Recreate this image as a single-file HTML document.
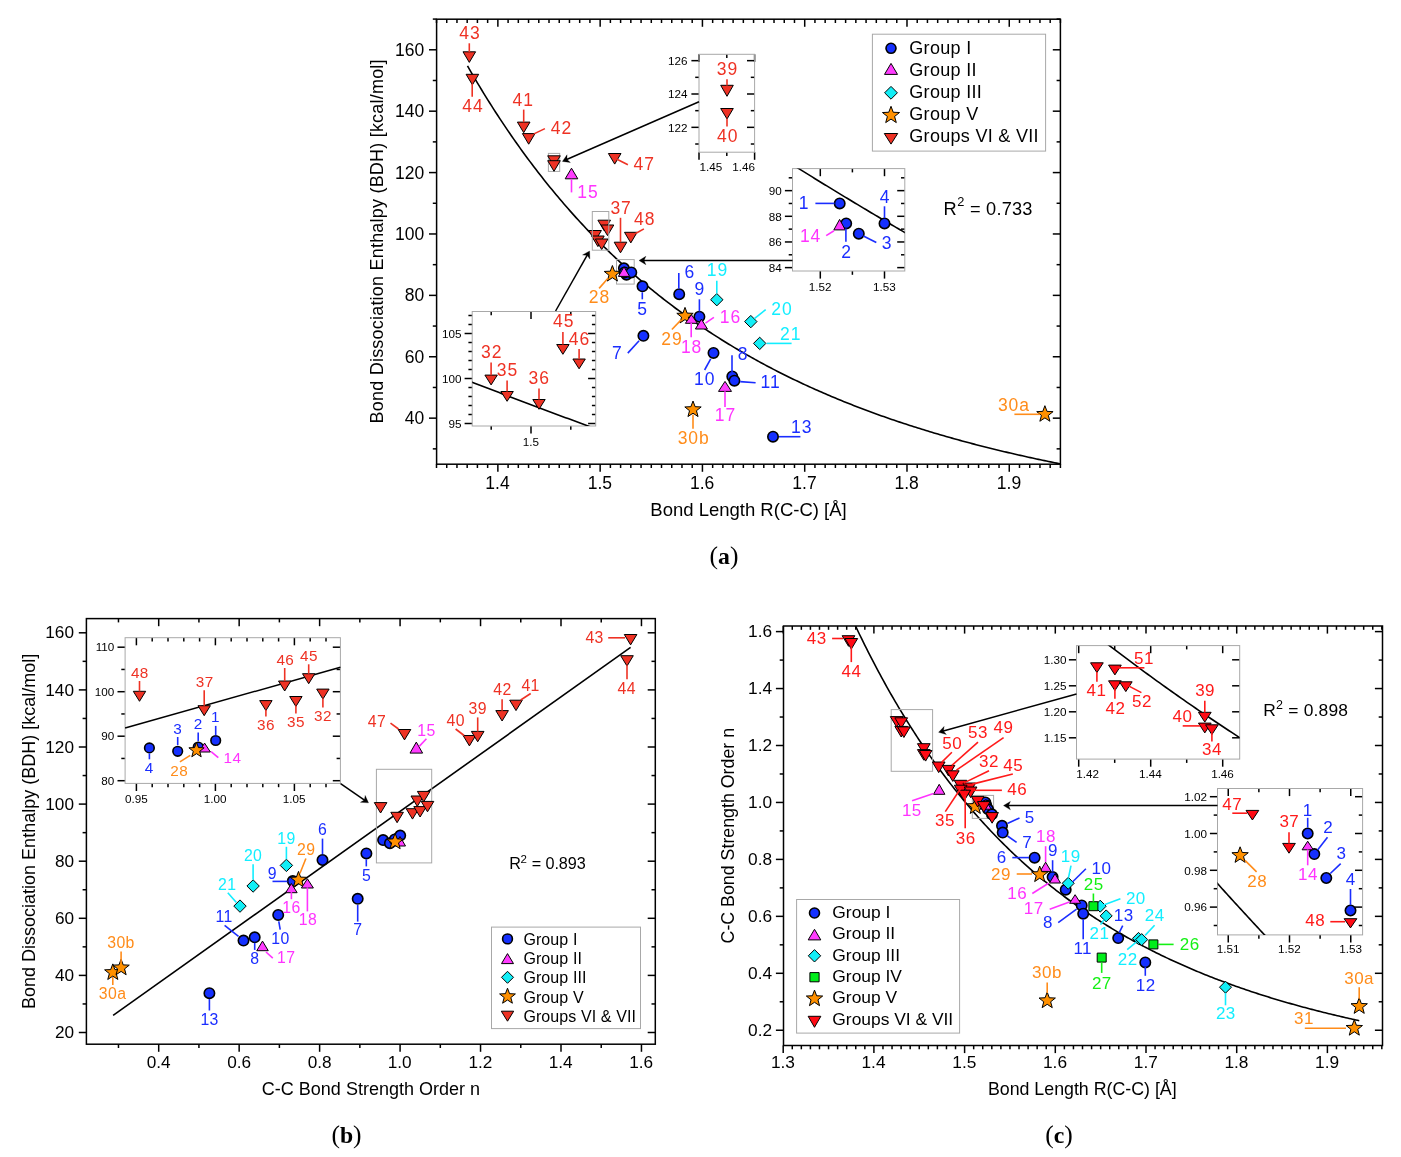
<!DOCTYPE html>
<html><head><meta charset="utf-8"><title>Figure</title>
<style>html,body{margin:0;padding:0;background:#fff;}svg{display:block;will-change:transform;}</style></head>
<body><svg width="1401" height="1157" viewBox="0 0 1401 1157" font-family="Liberation Sans, sans-serif">
<rect x="0" y="0" width="1401" height="1157" fill="#fff"/>
<line x1="497.87" y1="464.2" x2="497.87" y2="471.8" stroke="#000" stroke-width="1.5"/>
<line x1="497.87" y1="19.2" x2="497.87" y2="26.8" stroke="#000" stroke-width="1.5"/>
<line x1="600.15" y1="464.2" x2="600.15" y2="471.8" stroke="#000" stroke-width="1.5"/>
<line x1="600.15" y1="19.2" x2="600.15" y2="26.8" stroke="#000" stroke-width="1.5"/>
<line x1="702.43" y1="464.2" x2="702.43" y2="471.8" stroke="#000" stroke-width="1.5"/>
<line x1="702.43" y1="19.2" x2="702.43" y2="26.8" stroke="#000" stroke-width="1.5"/>
<line x1="804.71" y1="464.2" x2="804.71" y2="471.8" stroke="#000" stroke-width="1.5"/>
<line x1="804.71" y1="19.2" x2="804.71" y2="26.8" stroke="#000" stroke-width="1.5"/>
<line x1="906.99" y1="464.2" x2="906.99" y2="471.8" stroke="#000" stroke-width="1.5"/>
<line x1="906.99" y1="19.2" x2="906.99" y2="26.8" stroke="#000" stroke-width="1.5"/>
<line x1="1009.27" y1="464.2" x2="1009.27" y2="471.8" stroke="#000" stroke-width="1.5"/>
<line x1="1009.27" y1="19.2" x2="1009.27" y2="26.8" stroke="#000" stroke-width="1.5"/>
<line x1="436.5" y1="464.2" x2="436.5" y2="468" stroke="#000" stroke-width="1.5"/>
<line x1="436.5" y1="19.2" x2="436.5" y2="23" stroke="#000" stroke-width="1.5"/>
<line x1="446.73" y1="464.2" x2="446.73" y2="468" stroke="#000" stroke-width="1.5"/>
<line x1="446.73" y1="19.2" x2="446.73" y2="23" stroke="#000" stroke-width="1.5"/>
<line x1="456.96" y1="464.2" x2="456.96" y2="468" stroke="#000" stroke-width="1.5"/>
<line x1="456.96" y1="19.2" x2="456.96" y2="23" stroke="#000" stroke-width="1.5"/>
<line x1="467.18" y1="464.2" x2="467.18" y2="468" stroke="#000" stroke-width="1.5"/>
<line x1="467.18" y1="19.2" x2="467.18" y2="23" stroke="#000" stroke-width="1.5"/>
<line x1="477.41" y1="464.2" x2="477.41" y2="468" stroke="#000" stroke-width="1.5"/>
<line x1="477.41" y1="19.2" x2="477.41" y2="23" stroke="#000" stroke-width="1.5"/>
<line x1="487.64" y1="464.2" x2="487.64" y2="468" stroke="#000" stroke-width="1.5"/>
<line x1="487.64" y1="19.2" x2="487.64" y2="23" stroke="#000" stroke-width="1.5"/>
<line x1="508.1" y1="464.2" x2="508.1" y2="468" stroke="#000" stroke-width="1.5"/>
<line x1="508.1" y1="19.2" x2="508.1" y2="23" stroke="#000" stroke-width="1.5"/>
<line x1="518.32" y1="464.2" x2="518.32" y2="468" stroke="#000" stroke-width="1.5"/>
<line x1="518.32" y1="19.2" x2="518.32" y2="23" stroke="#000" stroke-width="1.5"/>
<line x1="528.55" y1="464.2" x2="528.55" y2="468" stroke="#000" stroke-width="1.5"/>
<line x1="528.55" y1="19.2" x2="528.55" y2="23" stroke="#000" stroke-width="1.5"/>
<line x1="538.78" y1="464.2" x2="538.78" y2="468" stroke="#000" stroke-width="1.5"/>
<line x1="538.78" y1="19.2" x2="538.78" y2="23" stroke="#000" stroke-width="1.5"/>
<line x1="549.01" y1="464.2" x2="549.01" y2="468" stroke="#000" stroke-width="1.5"/>
<line x1="549.01" y1="19.2" x2="549.01" y2="23" stroke="#000" stroke-width="1.5"/>
<line x1="559.24" y1="464.2" x2="559.24" y2="468" stroke="#000" stroke-width="1.5"/>
<line x1="559.24" y1="19.2" x2="559.24" y2="23" stroke="#000" stroke-width="1.5"/>
<line x1="569.46" y1="464.2" x2="569.46" y2="468" stroke="#000" stroke-width="1.5"/>
<line x1="569.46" y1="19.2" x2="569.46" y2="23" stroke="#000" stroke-width="1.5"/>
<line x1="579.69" y1="464.2" x2="579.69" y2="468" stroke="#000" stroke-width="1.5"/>
<line x1="579.69" y1="19.2" x2="579.69" y2="23" stroke="#000" stroke-width="1.5"/>
<line x1="589.92" y1="464.2" x2="589.92" y2="468" stroke="#000" stroke-width="1.5"/>
<line x1="589.92" y1="19.2" x2="589.92" y2="23" stroke="#000" stroke-width="1.5"/>
<line x1="610.38" y1="464.2" x2="610.38" y2="468" stroke="#000" stroke-width="1.5"/>
<line x1="610.38" y1="19.2" x2="610.38" y2="23" stroke="#000" stroke-width="1.5"/>
<line x1="620.6" y1="464.2" x2="620.6" y2="468" stroke="#000" stroke-width="1.5"/>
<line x1="620.6" y1="19.2" x2="620.6" y2="23" stroke="#000" stroke-width="1.5"/>
<line x1="630.83" y1="464.2" x2="630.83" y2="468" stroke="#000" stroke-width="1.5"/>
<line x1="630.83" y1="19.2" x2="630.83" y2="23" stroke="#000" stroke-width="1.5"/>
<line x1="641.06" y1="464.2" x2="641.06" y2="468" stroke="#000" stroke-width="1.5"/>
<line x1="641.06" y1="19.2" x2="641.06" y2="23" stroke="#000" stroke-width="1.5"/>
<line x1="651.29" y1="464.2" x2="651.29" y2="468" stroke="#000" stroke-width="1.5"/>
<line x1="651.29" y1="19.2" x2="651.29" y2="23" stroke="#000" stroke-width="1.5"/>
<line x1="661.52" y1="464.2" x2="661.52" y2="468" stroke="#000" stroke-width="1.5"/>
<line x1="661.52" y1="19.2" x2="661.52" y2="23" stroke="#000" stroke-width="1.5"/>
<line x1="671.74" y1="464.2" x2="671.74" y2="468" stroke="#000" stroke-width="1.5"/>
<line x1="671.74" y1="19.2" x2="671.74" y2="23" stroke="#000" stroke-width="1.5"/>
<line x1="681.97" y1="464.2" x2="681.97" y2="468" stroke="#000" stroke-width="1.5"/>
<line x1="681.97" y1="19.2" x2="681.97" y2="23" stroke="#000" stroke-width="1.5"/>
<line x1="692.2" y1="464.2" x2="692.2" y2="468" stroke="#000" stroke-width="1.5"/>
<line x1="692.2" y1="19.2" x2="692.2" y2="23" stroke="#000" stroke-width="1.5"/>
<line x1="712.66" y1="464.2" x2="712.66" y2="468" stroke="#000" stroke-width="1.5"/>
<line x1="712.66" y1="19.2" x2="712.66" y2="23" stroke="#000" stroke-width="1.5"/>
<line x1="722.88" y1="464.2" x2="722.88" y2="468" stroke="#000" stroke-width="1.5"/>
<line x1="722.88" y1="19.2" x2="722.88" y2="23" stroke="#000" stroke-width="1.5"/>
<line x1="733.11" y1="464.2" x2="733.11" y2="468" stroke="#000" stroke-width="1.5"/>
<line x1="733.11" y1="19.2" x2="733.11" y2="23" stroke="#000" stroke-width="1.5"/>
<line x1="743.34" y1="464.2" x2="743.34" y2="468" stroke="#000" stroke-width="1.5"/>
<line x1="743.34" y1="19.2" x2="743.34" y2="23" stroke="#000" stroke-width="1.5"/>
<line x1="753.57" y1="464.2" x2="753.57" y2="468" stroke="#000" stroke-width="1.5"/>
<line x1="753.57" y1="19.2" x2="753.57" y2="23" stroke="#000" stroke-width="1.5"/>
<line x1="763.8" y1="464.2" x2="763.8" y2="468" stroke="#000" stroke-width="1.5"/>
<line x1="763.8" y1="19.2" x2="763.8" y2="23" stroke="#000" stroke-width="1.5"/>
<line x1="774.02" y1="464.2" x2="774.02" y2="468" stroke="#000" stroke-width="1.5"/>
<line x1="774.02" y1="19.2" x2="774.02" y2="23" stroke="#000" stroke-width="1.5"/>
<line x1="784.25" y1="464.2" x2="784.25" y2="468" stroke="#000" stroke-width="1.5"/>
<line x1="784.25" y1="19.2" x2="784.25" y2="23" stroke="#000" stroke-width="1.5"/>
<line x1="794.48" y1="464.2" x2="794.48" y2="468" stroke="#000" stroke-width="1.5"/>
<line x1="794.48" y1="19.2" x2="794.48" y2="23" stroke="#000" stroke-width="1.5"/>
<line x1="814.94" y1="464.2" x2="814.94" y2="468" stroke="#000" stroke-width="1.5"/>
<line x1="814.94" y1="19.2" x2="814.94" y2="23" stroke="#000" stroke-width="1.5"/>
<line x1="825.16" y1="464.2" x2="825.16" y2="468" stroke="#000" stroke-width="1.5"/>
<line x1="825.16" y1="19.2" x2="825.16" y2="23" stroke="#000" stroke-width="1.5"/>
<line x1="835.39" y1="464.2" x2="835.39" y2="468" stroke="#000" stroke-width="1.5"/>
<line x1="835.39" y1="19.2" x2="835.39" y2="23" stroke="#000" stroke-width="1.5"/>
<line x1="845.62" y1="464.2" x2="845.62" y2="468" stroke="#000" stroke-width="1.5"/>
<line x1="845.62" y1="19.2" x2="845.62" y2="23" stroke="#000" stroke-width="1.5"/>
<line x1="855.85" y1="464.2" x2="855.85" y2="468" stroke="#000" stroke-width="1.5"/>
<line x1="855.85" y1="19.2" x2="855.85" y2="23" stroke="#000" stroke-width="1.5"/>
<line x1="866.08" y1="464.2" x2="866.08" y2="468" stroke="#000" stroke-width="1.5"/>
<line x1="866.08" y1="19.2" x2="866.08" y2="23" stroke="#000" stroke-width="1.5"/>
<line x1="876.3" y1="464.2" x2="876.3" y2="468" stroke="#000" stroke-width="1.5"/>
<line x1="876.3" y1="19.2" x2="876.3" y2="23" stroke="#000" stroke-width="1.5"/>
<line x1="886.53" y1="464.2" x2="886.53" y2="468" stroke="#000" stroke-width="1.5"/>
<line x1="886.53" y1="19.2" x2="886.53" y2="23" stroke="#000" stroke-width="1.5"/>
<line x1="896.76" y1="464.2" x2="896.76" y2="468" stroke="#000" stroke-width="1.5"/>
<line x1="896.76" y1="19.2" x2="896.76" y2="23" stroke="#000" stroke-width="1.5"/>
<line x1="917.22" y1="464.2" x2="917.22" y2="468" stroke="#000" stroke-width="1.5"/>
<line x1="917.22" y1="19.2" x2="917.22" y2="23" stroke="#000" stroke-width="1.5"/>
<line x1="927.44" y1="464.2" x2="927.44" y2="468" stroke="#000" stroke-width="1.5"/>
<line x1="927.44" y1="19.2" x2="927.44" y2="23" stroke="#000" stroke-width="1.5"/>
<line x1="937.67" y1="464.2" x2="937.67" y2="468" stroke="#000" stroke-width="1.5"/>
<line x1="937.67" y1="19.2" x2="937.67" y2="23" stroke="#000" stroke-width="1.5"/>
<line x1="947.9" y1="464.2" x2="947.9" y2="468" stroke="#000" stroke-width="1.5"/>
<line x1="947.9" y1="19.2" x2="947.9" y2="23" stroke="#000" stroke-width="1.5"/>
<line x1="958.13" y1="464.2" x2="958.13" y2="468" stroke="#000" stroke-width="1.5"/>
<line x1="958.13" y1="19.2" x2="958.13" y2="23" stroke="#000" stroke-width="1.5"/>
<line x1="968.36" y1="464.2" x2="968.36" y2="468" stroke="#000" stroke-width="1.5"/>
<line x1="968.36" y1="19.2" x2="968.36" y2="23" stroke="#000" stroke-width="1.5"/>
<line x1="978.58" y1="464.2" x2="978.58" y2="468" stroke="#000" stroke-width="1.5"/>
<line x1="978.58" y1="19.2" x2="978.58" y2="23" stroke="#000" stroke-width="1.5"/>
<line x1="988.81" y1="464.2" x2="988.81" y2="468" stroke="#000" stroke-width="1.5"/>
<line x1="988.81" y1="19.2" x2="988.81" y2="23" stroke="#000" stroke-width="1.5"/>
<line x1="999.04" y1="464.2" x2="999.04" y2="468" stroke="#000" stroke-width="1.5"/>
<line x1="999.04" y1="19.2" x2="999.04" y2="23" stroke="#000" stroke-width="1.5"/>
<line x1="1019.5" y1="464.2" x2="1019.5" y2="468" stroke="#000" stroke-width="1.5"/>
<line x1="1019.5" y1="19.2" x2="1019.5" y2="23" stroke="#000" stroke-width="1.5"/>
<line x1="1029.72" y1="464.2" x2="1029.72" y2="468" stroke="#000" stroke-width="1.5"/>
<line x1="1029.72" y1="19.2" x2="1029.72" y2="23" stroke="#000" stroke-width="1.5"/>
<line x1="1039.95" y1="464.2" x2="1039.95" y2="468" stroke="#000" stroke-width="1.5"/>
<line x1="1039.95" y1="19.2" x2="1039.95" y2="23" stroke="#000" stroke-width="1.5"/>
<line x1="1050.18" y1="464.2" x2="1050.18" y2="468" stroke="#000" stroke-width="1.5"/>
<line x1="1050.18" y1="19.2" x2="1050.18" y2="23" stroke="#000" stroke-width="1.5"/>
<line x1="1060.41" y1="464.2" x2="1060.41" y2="468" stroke="#000" stroke-width="1.5"/>
<line x1="1060.41" y1="19.2" x2="1060.41" y2="23" stroke="#000" stroke-width="1.5"/>
<line x1="429" y1="418.15" x2="436.6" y2="418.15" stroke="#000" stroke-width="1.5"/>
<line x1="1052.8" y1="418.15" x2="1060.4" y2="418.15" stroke="#000" stroke-width="1.5"/>
<line x1="429" y1="356.76" x2="436.6" y2="356.76" stroke="#000" stroke-width="1.5"/>
<line x1="1052.8" y1="356.76" x2="1060.4" y2="356.76" stroke="#000" stroke-width="1.5"/>
<line x1="429" y1="295.37" x2="436.6" y2="295.37" stroke="#000" stroke-width="1.5"/>
<line x1="1052.8" y1="295.37" x2="1060.4" y2="295.37" stroke="#000" stroke-width="1.5"/>
<line x1="429" y1="233.97" x2="436.6" y2="233.97" stroke="#000" stroke-width="1.5"/>
<line x1="1052.8" y1="233.97" x2="1060.4" y2="233.97" stroke="#000" stroke-width="1.5"/>
<line x1="429" y1="172.58" x2="436.6" y2="172.58" stroke="#000" stroke-width="1.5"/>
<line x1="1052.8" y1="172.58" x2="1060.4" y2="172.58" stroke="#000" stroke-width="1.5"/>
<line x1="429" y1="111.18" x2="436.6" y2="111.18" stroke="#000" stroke-width="1.5"/>
<line x1="1052.8" y1="111.18" x2="1060.4" y2="111.18" stroke="#000" stroke-width="1.5"/>
<line x1="429" y1="49.79" x2="436.6" y2="49.79" stroke="#000" stroke-width="1.5"/>
<line x1="1052.8" y1="49.79" x2="1060.4" y2="49.79" stroke="#000" stroke-width="1.5"/>
<line x1="432.8" y1="448.85" x2="436.6" y2="448.85" stroke="#000" stroke-width="1.5"/>
<line x1="1056.6" y1="448.85" x2="1060.4" y2="448.85" stroke="#000" stroke-width="1.5"/>
<line x1="432.8" y1="387.46" x2="436.6" y2="387.46" stroke="#000" stroke-width="1.5"/>
<line x1="1056.6" y1="387.46" x2="1060.4" y2="387.46" stroke="#000" stroke-width="1.5"/>
<line x1="432.8" y1="326.06" x2="436.6" y2="326.06" stroke="#000" stroke-width="1.5"/>
<line x1="1056.6" y1="326.06" x2="1060.4" y2="326.06" stroke="#000" stroke-width="1.5"/>
<line x1="432.8" y1="264.67" x2="436.6" y2="264.67" stroke="#000" stroke-width="1.5"/>
<line x1="1056.6" y1="264.67" x2="1060.4" y2="264.67" stroke="#000" stroke-width="1.5"/>
<line x1="432.8" y1="203.28" x2="436.6" y2="203.28" stroke="#000" stroke-width="1.5"/>
<line x1="1056.6" y1="203.28" x2="1060.4" y2="203.28" stroke="#000" stroke-width="1.5"/>
<line x1="432.8" y1="141.88" x2="436.6" y2="141.88" stroke="#000" stroke-width="1.5"/>
<line x1="1056.6" y1="141.88" x2="1060.4" y2="141.88" stroke="#000" stroke-width="1.5"/>
<line x1="432.8" y1="80.49" x2="436.6" y2="80.49" stroke="#000" stroke-width="1.5"/>
<line x1="1056.6" y1="80.49" x2="1060.4" y2="80.49" stroke="#000" stroke-width="1.5"/>
<line x1="432.8" y1="19.09" x2="436.6" y2="19.09" stroke="#000" stroke-width="1.5"/>
<line x1="1056.6" y1="19.09" x2="1060.4" y2="19.09" stroke="#000" stroke-width="1.5"/>
<rect x="436.6" y="19.2" width="623.8" height="445" fill="none" stroke="#000" stroke-width="1.5"/>
<text x="424.2" y="424.25" font-family="Liberation Sans" font-size="17.5" fill="#000" text-anchor="end">40</text>
<text x="424.2" y="362.86" font-family="Liberation Sans" font-size="17.5" fill="#000" text-anchor="end">60</text>
<text x="424.2" y="301.47" font-family="Liberation Sans" font-size="17.5" fill="#000" text-anchor="end">80</text>
<text x="424.2" y="240.07" font-family="Liberation Sans" font-size="17.5" fill="#000" text-anchor="end">100</text>
<text x="424.2" y="178.68" font-family="Liberation Sans" font-size="17.5" fill="#000" text-anchor="end">120</text>
<text x="424.2" y="117.28" font-family="Liberation Sans" font-size="17.5" fill="#000" text-anchor="end">140</text>
<text x="424.2" y="55.89" font-family="Liberation Sans" font-size="17.5" fill="#000" text-anchor="end">160</text>
<text x="497.48" y="488.6" font-family="Liberation Sans" font-size="17.5" fill="#000" text-anchor="middle">1.4</text>
<text x="599.84" y="488.6" font-family="Liberation Sans" font-size="17.5" fill="#000" text-anchor="middle">1.5</text>
<text x="702.12" y="488.6" font-family="Liberation Sans" font-size="17.5" fill="#000" text-anchor="middle">1.6</text>
<text x="804.49" y="488.6" font-family="Liberation Sans" font-size="17.5" fill="#000" text-anchor="middle">1.7</text>
<text x="906.68" y="488.6" font-family="Liberation Sans" font-size="17.5" fill="#000" text-anchor="middle">1.8</text>
<text x="1009.01" y="488.6" font-family="Liberation Sans" font-size="17.5" fill="#000" text-anchor="middle">1.9</text>
<text transform="translate(383.3,241.3) rotate(-90)" x="0" y="0" font-family="Liberation Sans" font-size="18" letter-spacing="0.21" text-anchor="middle">Bond Dissociation Enthalpy (BDH) [kcal/mol]</text>
<text x="748.5" y="516.2" font-family="Liberation Sans" font-size="18.5" fill="#000" text-anchor="middle">Bond Length R(C-C) [Å]</text>
<text x="724" y="564.4" font-family="Liberation Serif" font-size="25.5" text-anchor="middle">(<tspan font-weight="bold" font-size="23.71">a</tspan>)</text>
<clipPath id="ca"><rect x="436.6" y="19.2" width="623.8" height="445"/></clipPath>
<path d="M467.49,65.93 L469.5,69.42 L471.51,72.89 L473.52,76.33 L475.53,79.73 L477.54,83.11 L479.55,86.45 L481.56,89.77 L483.57,93.06 L485.59,96.32 L487.6,99.55 L489.61,102.76 L491.62,105.93 L493.63,109.08 L495.64,112.2 L497.65,115.3 L499.66,118.36 L501.67,121.41 L503.68,124.42 L505.69,127.41 L507.7,130.37 L509.71,133.31 L511.72,136.23 L513.73,139.12 L515.74,141.98 L517.75,144.82 L519.76,147.64 L521.77,150.43 L523.78,153.2 L525.79,155.94 L527.81,158.66 L529.82,161.36 L531.83,164.04 L533.84,166.69 L535.85,169.32 L537.86,171.93 L539.87,174.52 L541.88,177.08 L543.89,179.63 L545.9,182.15 L547.91,184.65 L549.92,187.13 L551.93,189.59 L553.94,192.03 L555.95,194.45 L557.96,196.85 L559.97,199.23 L561.98,201.6 L563.99,203.94 L566,206.26 L568.02,208.56 L570.03,210.85 L572.04,213.11 L574.05,215.36 L576.06,217.59 L578.07,219.8 L580.08,221.99 L582.09,224.16 L584.1,226.32 L586.11,228.46 L588.12,230.58 L590.13,232.68 L592.14,234.77 L594.15,236.84 L596.16,238.9 L598.17,240.93 L600.18,242.95 L602.19,244.96 L604.2,246.95 L606.21,248.92 L608.22,250.88 L610.24,252.82 L612.25,254.74 L614.26,256.66 L616.27,258.55 L618.28,260.43 L620.29,262.3 L622.3,264.15 L624.31,265.98 L626.32,267.8 L628.33,269.61 L630.34,271.4 L632.35,273.18 L634.36,274.95 L636.37,276.7 L638.38,278.43 L640.39,280.16 L642.4,281.87 L644.41,283.56 L646.42,285.25 L648.43,286.92 L650.44,288.57 L652.46,290.22 L654.47,291.85 L656.48,293.47 L658.49,295.08 L660.5,296.67 L662.51,298.25 L664.52,299.82 L666.53,301.38 L668.54,302.92 L670.55,304.46 L672.56,305.98 L674.57,307.49 L676.58,308.99 L678.59,310.47 L680.6,311.95 L682.61,313.41 L684.62,314.86 L686.63,316.31 L688.64,317.74 L690.65,319.16 L692.67,320.57 L694.68,321.97 L696.69,323.35 L698.7,324.73 L700.71,326.1 L702.72,327.46 L704.73,328.8 L706.74,330.14 L708.75,331.47 L710.76,332.78 L712.77,334.09 L714.78,335.39 L716.79,336.67 L718.8,337.95 L720.81,339.22 L722.82,340.48 L724.83,341.73 L726.84,342.97 L728.85,344.2 L730.86,345.42 L732.87,346.63 L734.89,347.83 L736.9,349.03 L738.91,350.21 L740.92,351.39 L742.93,352.56 L744.94,353.72 L746.95,354.87 L748.96,356.01 L750.97,357.15 L752.98,358.28 L754.99,359.39 L757,360.5 L759.01,361.61 L761.02,362.7 L763.03,363.79 L765.04,364.86 L767.05,365.93 L769.06,367 L771.07,368.05 L773.08,369.1 L775.09,370.14 L777.11,371.17 L779.12,372.19 L781.13,373.21 L783.14,374.22 L785.15,375.22 L787.16,376.22 L789.17,377.21 L791.18,378.19 L793.19,379.16 L795.2,380.13 L797.21,381.09 L799.22,382.04 L801.23,382.99 L803.24,383.93 L805.25,384.86 L807.26,385.79 L809.27,386.71 L811.28,387.62 L813.29,388.53 L815.3,389.43 L817.32,390.33 L819.33,391.21 L821.34,392.1 L823.35,392.97 L825.36,393.84 L827.37,394.7 L829.38,395.56 L831.39,396.41 L833.4,397.26 L835.41,398.1 L837.42,398.93 L839.43,399.76 L841.44,400.58 L843.45,401.4 L845.46,402.21 L847.47,403.01 L849.48,403.81 L851.49,404.61 L853.5,405.4 L855.51,406.18 L857.52,406.96 L859.54,407.73 L861.55,408.5 L863.56,409.26 L865.57,410.02 L867.58,410.77 L869.59,411.51 L871.6,412.25 L873.61,412.99 L875.62,413.72 L877.63,414.45 L879.64,415.17 L881.65,415.88 L883.66,416.6 L885.67,417.3 L887.68,418 L889.69,418.7 L891.7,419.39 L893.71,420.08 L895.72,420.76 L897.73,421.44 L899.74,422.12 L901.76,422.79 L903.77,423.45 L905.78,424.11 L907.79,424.77 L909.8,425.42 L911.81,426.07 L913.82,426.71 L915.83,427.35 L917.84,427.98 L919.85,428.61 L921.86,429.24 L923.87,429.86 L925.88,430.48 L927.89,431.09 L929.9,431.7 L931.91,432.3 L933.92,432.91 L935.93,433.5 L937.94,434.1 L939.95,434.69 L941.97,435.27 L943.98,435.85 L945.99,436.43 L948,437.01 L950.01,437.58 L952.02,438.14 L954.03,438.71 L956.04,439.27 L958.05,439.82 L960.06,440.37 L962.07,440.92 L964.08,441.47 L966.09,442.01 L968.1,442.55 L970.11,443.08 L972.12,443.61 L974.13,444.14 L976.14,444.66 L978.15,445.18 L980.16,445.7 L982.17,446.21 L984.19,446.73 L986.2,447.23 L988.21,447.74 L990.22,448.24 L992.23,448.74 L994.24,449.23 L996.25,449.72 L998.26,450.21 L1000.27,450.69 L1002.28,451.18 L1004.29,451.66 L1006.3,452.13 L1008.31,452.6 L1010.32,453.07 L1012.33,453.54 L1014.34,454 L1016.35,454.47 L1018.36,454.92 L1020.37,455.38 L1022.38,455.83 L1024.39,456.28 L1026.41,456.73 L1028.42,457.17 L1030.43,457.61 L1032.44,458.05 L1034.45,458.49 L1036.46,458.92 L1038.47,459.35 L1040.48,459.78 L1042.49,460.2 L1044.5,460.62 L1046.51,461.04 L1048.52,461.46 L1050.53,461.87 L1052.54,462.28 L1054.55,462.69 L1056.56,463.1 L1058.57,463.5 L1060.58,463.91 L1062.59,464.3 L1064.6,464.7 L1066.62,465.1 L1068.63,465.49 L1070.64,465.88" fill="none" stroke="#000" stroke-width="1.6" clip-path="url(#ca)"/>
<rect x="872.4" y="34.2" width="173.2" height="116.9" fill="none" stroke="#a8a8a8" stroke-width="1"/>
<circle cx="891" cy="48.3" r="5" fill="#1530ff" stroke="#000" stroke-width="1.6"/>
<polygon points="891,63.4 897.5,74.4 884.5,74.4" fill="#ff3cff" stroke="#000" stroke-width="1" stroke-linejoin="miter"/>
<polygon points="891,86.4 897.4,92.8 891,99.2 884.6,92.8" fill="#12eef6" stroke="#000" stroke-width="1" stroke-linejoin="miter"/>
<polygon points="891,106.3 893.22,112.24 899.56,112.52 894.59,116.47 896.29,122.58 891,119.08 885.71,122.58 887.41,116.47 882.44,112.52 888.78,112.24" fill="#ff9000" stroke="#000" stroke-width="1" stroke-linejoin="miter"/>
<polygon points="884.3,133.5 897.7,133.5 891,144.1" fill="#ee3224" stroke="#000" stroke-width="1" stroke-linejoin="miter"/>
<text x="909.3" y="53.7" font-family="Liberation Sans" font-size="18" fill="#000" text-anchor="start" letter-spacing="0.3">Group I</text>
<text x="909.3" y="75.8" font-family="Liberation Sans" font-size="18" fill="#000" text-anchor="start" letter-spacing="0.3">Group II</text>
<text x="909.3" y="97.9" font-family="Liberation Sans" font-size="18" fill="#000" text-anchor="start" letter-spacing="0.3">Group III</text>
<text x="909.3" y="120" font-family="Liberation Sans" font-size="18" fill="#000" text-anchor="start" letter-spacing="0.3">Group V</text>
<text x="909.3" y="142.1" font-family="Liberation Sans" font-size="18" fill="#000" text-anchor="start" letter-spacing="0.3">Groups VI &amp; VII</text>
<text x="943.54" y="214.5" font-family="Liberation Sans" font-size="18.2" fill="#000" text-anchor="start">R</text>
<text x="957.16" y="205.9" font-family="Liberation Sans" font-size="12.8" fill="#000" text-anchor="start">2</text>
<text x="970.09" y="214.5" font-family="Liberation Sans" font-size="18.2" fill="#000" text-anchor="start" letter-spacing="0.18">= 0.733</text>
<polygon points="463,51.8 475.6,51.8 469.3,62.4" fill="#ee3224" stroke="#000" stroke-width="1" stroke-linejoin="miter"/>
<polygon points="466.1,74.3 478.7,74.3 472.4,84.9" fill="#ee3224" stroke="#000" stroke-width="1" stroke-linejoin="miter"/>
<polygon points="517.4,122.1 530,122.1 523.7,132.7" fill="#ee3224" stroke="#000" stroke-width="1" stroke-linejoin="miter"/>
<polygon points="522.4,133.6 535,133.6 528.7,144.2" fill="#ee3224" stroke="#000" stroke-width="1" stroke-linejoin="miter"/>
<polygon points="608.4,153.5 621,153.5 614.7,164.1" fill="#ee3224" stroke="#000" stroke-width="1" stroke-linejoin="miter"/>
<polygon points="597.9,220.2 610.5,220.2 604.2,230.8" fill="#ee3224" stroke="#000" stroke-width="1" stroke-linejoin="miter"/>
<polygon points="601.2,225 613.8,225 607.5,235.6" fill="#ee3224" stroke="#000" stroke-width="1" stroke-linejoin="miter"/>
<polygon points="588.8,230.5 601.4,230.5 595.1,241.1" fill="#ee3224" stroke="#000" stroke-width="1" stroke-linejoin="miter"/>
<polygon points="591.6,236 604.2,236 597.9,246.6" fill="#ee3224" stroke="#000" stroke-width="1" stroke-linejoin="miter"/>
<polygon points="595.4,239 608,239 601.7,249.6" fill="#ee3224" stroke="#000" stroke-width="1" stroke-linejoin="miter"/>
<polygon points="614.2,242.2 626.8,242.2 620.5,252.8" fill="#ee3224" stroke="#000" stroke-width="1" stroke-linejoin="miter"/>
<polygon points="624.5,232.3 637.1,232.3 630.8,242.9" fill="#ee3224" stroke="#000" stroke-width="1" stroke-linejoin="miter"/>
<rect x="548.4" y="153.4" width="11.3" height="18" fill="none" stroke="#a8a8a8" stroke-width="1"/>
<polygon points="547.7,155.8 560.3,155.8 554,166.4" fill="#ee3224" stroke="#000" stroke-width="1" stroke-linejoin="miter"/>
<polygon points="547.7,160.7 560.3,160.7 554,171.3" fill="#ee3224" stroke="#000" stroke-width="1" stroke-linejoin="miter"/>
<rect x="592.3" y="211.5" width="16.5" height="38.7" fill="none" stroke="#a8a8a8" stroke-width="1"/>
<rect x="616.5" y="259.6" width="17.7" height="24.5" fill="none" stroke="#a8a8a8" stroke-width="1"/>
<text x="470" y="39" font-family="Liberation Sans" font-size="17.5" fill="#ee3224" text-anchor="middle" letter-spacing="1">43</text>
<text x="473.01" y="112.3" font-family="Liberation Sans" font-size="17.5" fill="#ee3224" text-anchor="middle" letter-spacing="1">44</text>
<text x="523.24" y="105.7" font-family="Liberation Sans" font-size="17.5" fill="#ee3224" text-anchor="middle" letter-spacing="1">41</text>
<text x="561.58" y="134" font-family="Liberation Sans" font-size="17.5" fill="#ee3224" text-anchor="middle" letter-spacing="1">42</text>
<text x="644.28" y="169.7" font-family="Liberation Sans" font-size="17.5" fill="#ee3224" text-anchor="middle" letter-spacing="1">47</text>
<text x="621.11" y="213.6" font-family="Liberation Sans" font-size="17.5" fill="#ee3224" text-anchor="middle" letter-spacing="1">37</text>
<text x="644.8" y="224.5" font-family="Liberation Sans" font-size="17.5" fill="#ee3224" text-anchor="middle" letter-spacing="1">48</text>
<line x1="469.3" y1="43.3" x2="469.3" y2="52" stroke="#ee3224" stroke-width="1.6"/>
<line x1="472.2" y1="83.5" x2="472.2" y2="96.7" stroke="#ee3224" stroke-width="1.6"/>
<line x1="523.7" y1="109.6" x2="523.7" y2="122.2" stroke="#ee3224" stroke-width="1.6"/>
<line x1="533.9" y1="133.9" x2="544.9" y2="128.6" stroke="#ee3224" stroke-width="1.6"/>
<line x1="617" y1="159.3" x2="627.9" y2="164.7" stroke="#ee3224" stroke-width="1.6"/>
<line x1="620.5" y1="217.8" x2="620.5" y2="242.2" stroke="#ee3224" stroke-width="1.6"/>
<line x1="635.6" y1="233.5" x2="643.9" y2="228.9" stroke="#ee3224" stroke-width="1.6"/>
<polygon points="612.4,265.5 614.52,271.18 620.58,271.44 615.84,275.22 617.45,281.06 612.4,277.71 607.35,281.06 608.96,275.22 604.22,271.44 610.28,271.18" fill="#ff9000" stroke="#000" stroke-width="1" stroke-linejoin="miter"/>
<circle cx="623.9" cy="268.3" r="5.2" fill="#1530ff" stroke="#000" stroke-width="1.6"/>
<circle cx="626.5" cy="274.7" r="5.2" fill="#1530ff" stroke="#000" stroke-width="1.6"/>
<circle cx="624.6" cy="272.5" r="5.2" fill="#1530ff" stroke="#000" stroke-width="1.6"/>
<circle cx="631.3" cy="272.4" r="5.2" fill="#1530ff" stroke="#000" stroke-width="1.6"/>
<polygon points="624,266.8 629.6,276.4 618.4,276.4" fill="#ff3cff" stroke="#000" stroke-width="1" stroke-linejoin="miter"/>
<line x1="608" y1="278.2" x2="599.1" y2="288.4" stroke="#ff8c1a" stroke-width="1.6"/>
<text x="599.43" y="303.4" font-family="Liberation Sans" font-size="17.5" fill="#ff8c1a" text-anchor="middle" letter-spacing="1">28</text>
<circle cx="642.5" cy="286.3" r="5.2" fill="#1530ff" stroke="#000" stroke-width="1.6"/>
<circle cx="679.2" cy="294.2" r="5.2" fill="#1530ff" stroke="#000" stroke-width="1.6"/>
<circle cx="643.4" cy="335.8" r="5.2" fill="#1530ff" stroke="#000" stroke-width="1.6"/>
<circle cx="699.4" cy="316.7" r="5.2" fill="#1530ff" stroke="#000" stroke-width="1.6"/>
<circle cx="713.5" cy="352.9" r="5.2" fill="#1530ff" stroke="#000" stroke-width="1.6"/>
<circle cx="732.3" cy="376.4" r="5.2" fill="#1530ff" stroke="#000" stroke-width="1.6"/>
<circle cx="734.4" cy="380.7" r="5.2" fill="#1530ff" stroke="#000" stroke-width="1.6"/>
<circle cx="773" cy="436.7" r="5.2" fill="#1530ff" stroke="#000" stroke-width="1.6"/>
<polygon points="571.5,168.2 577.8,178.8 565.2,178.8" fill="#ff3cff" stroke="#000" stroke-width="1" stroke-linejoin="miter"/>
<line x1="571.5" y1="178.8" x2="571.5" y2="192.4" stroke="#ff33ff" stroke-width="1.6"/>
<text x="587.91" y="198.2" font-family="Liberation Sans" font-size="17.5" fill="#ff33ff" text-anchor="middle" letter-spacing="1">15</text>
<polygon points="685,307.4 687.12,313.08 693.18,313.34 688.44,317.12 690.05,322.96 685,319.61 679.95,322.96 681.56,317.12 676.82,313.34 682.88,313.08" fill="#ff9000" stroke="#000" stroke-width="1" stroke-linejoin="miter"/>
<polygon points="691.4,314.7 697.4,323.3 685.4,323.3" fill="#ff3cff" stroke="#000" stroke-width="1" stroke-linejoin="miter"/>
<polygon points="701.4,319.2 707.4,329 695.4,329" fill="#ff3cff" stroke="#000" stroke-width="1" stroke-linejoin="miter"/>
<polygon points="725,381.4 731.5,391.4 718.5,391.4" fill="#ff3cff" stroke="#000" stroke-width="1" stroke-linejoin="miter"/>
<polygon points="693,401 695.12,406.68 701.18,406.94 696.44,410.72 698.05,416.56 693,413.21 687.95,416.56 689.56,410.72 684.82,406.94 690.88,406.68" fill="#ff9000" stroke="#000" stroke-width="1" stroke-linejoin="miter"/>
<polygon points="1044.9,405.7 1047.02,411.38 1053.08,411.64 1048.34,415.42 1049.95,421.26 1044.9,417.91 1039.85,421.26 1041.46,415.42 1036.72,411.64 1042.78,411.38" fill="#ff9000" stroke="#000" stroke-width="1" stroke-linejoin="miter"/>
<polygon points="716.8,293.5 723,299.7 716.8,305.9 710.6,299.7" fill="#12eef6" stroke="#000" stroke-width="1" stroke-linejoin="miter"/>
<polygon points="750.8,315.4 757,321.6 750.8,327.8 744.6,321.6" fill="#12eef6" stroke="#000" stroke-width="1" stroke-linejoin="miter"/>
<polygon points="759.7,337.2 765.9,343.4 759.7,349.6 753.5,343.4" fill="#12eef6" stroke="#000" stroke-width="1" stroke-linejoin="miter"/>
<line x1="642.3" y1="292.3" x2="642.3" y2="299.3" stroke="#1a2dff" stroke-width="1.6"/>
<line x1="678.8" y1="273" x2="678.8" y2="288.7" stroke="#1a2dff" stroke-width="1.6"/>
<line x1="639.1" y1="340.8" x2="627.8" y2="353.1" stroke="#1a2dff" stroke-width="1.6"/>
<line x1="699.4" y1="299.3" x2="699.4" y2="311.5" stroke="#1a2dff" stroke-width="1.6"/>
<line x1="710.7" y1="358.8" x2="704.6" y2="370" stroke="#1a2dff" stroke-width="1.6"/>
<line x1="732" y1="355.2" x2="732" y2="372" stroke="#1a2dff" stroke-width="1.6"/>
<line x1="740.2" y1="381.6" x2="755.6" y2="382.8" stroke="#1a2dff" stroke-width="1.6"/>
<line x1="779" y1="436.7" x2="800.4" y2="436.7" stroke="#1a2dff" stroke-width="1.6"/>
<line x1="716.8" y1="280.7" x2="716.8" y2="293.5" stroke="#12eeff" stroke-width="1.6"/>
<line x1="754.4" y1="318.6" x2="765.7" y2="309.6" stroke="#12eeff" stroke-width="1.6"/>
<line x1="766.6" y1="343.4" x2="791.6" y2="343.4" stroke="#12eeff" stroke-width="1.6"/>
<line x1="681.1" y1="319.9" x2="671.9" y2="329.5" stroke="#ff8c1a" stroke-width="1.6"/>
<line x1="693" y1="414.4" x2="693" y2="428.8" stroke="#ff8c1a" stroke-width="1.6"/>
<line x1="1014.4" y1="414.3" x2="1040" y2="414.3" stroke="#ff8c1a" stroke-width="1.6"/>
<line x1="691.2" y1="323" x2="691.2" y2="337.2" stroke="#ff33ff" stroke-width="1.6"/>
<line x1="705.5" y1="323.1" x2="713.9" y2="317.3" stroke="#ff33ff" stroke-width="1.6"/>
<line x1="725" y1="391.3" x2="725" y2="407.1" stroke="#ff33ff" stroke-width="1.6"/>
<text x="642.01" y="315.3" font-family="Liberation Sans" font-size="17.5" fill="#1a2dff" text-anchor="middle">5</text>
<text x="689.42" y="278.4" font-family="Liberation Sans" font-size="17.5" fill="#1a2dff" text-anchor="middle">6</text>
<text x="616.81" y="358.6" font-family="Liberation Sans" font-size="17.5" fill="#1a2dff" text-anchor="middle">7</text>
<text x="699.31" y="295.2" font-family="Liberation Sans" font-size="17.5" fill="#1a2dff" text-anchor="middle">9</text>
<text x="704.67" y="385.2" font-family="Liberation Sans" font-size="17.5" fill="#1a2dff" text-anchor="middle" letter-spacing="1">10</text>
<text x="742.67" y="359.7" font-family="Liberation Sans" font-size="17.5" fill="#1a2dff" text-anchor="middle">8</text>
<text x="770.66" y="388.3" font-family="Liberation Sans" font-size="17.5" fill="#1a2dff" text-anchor="middle" letter-spacing="1">11</text>
<text x="801.71" y="433.2" font-family="Liberation Sans" font-size="17.5" fill="#1a2dff" text-anchor="middle" letter-spacing="1">13</text>
<text x="717.46" y="276" font-family="Liberation Sans" font-size="17.5" fill="#12eeff" text-anchor="middle" letter-spacing="1">19</text>
<text x="781.99" y="314.8" font-family="Liberation Sans" font-size="17.5" fill="#12eeff" text-anchor="middle" letter-spacing="1">20</text>
<text x="790.78" y="339.6" font-family="Liberation Sans" font-size="17.5" fill="#12eeff" text-anchor="middle" letter-spacing="1">21</text>
<text x="671.98" y="344.7" font-family="Liberation Sans" font-size="17.5" fill="#ff8c1a" text-anchor="middle" letter-spacing="1">29</text>
<text x="693.73" y="444" font-family="Liberation Sans" font-size="17.5" fill="#ff8c1a" text-anchor="middle" letter-spacing="1">30b</text>
<text x="1013.98" y="411.2" font-family="Liberation Sans" font-size="17.5" fill="#ff8c1a" text-anchor="middle" letter-spacing="1">30a</text>
<text x="691.61" y="353" font-family="Liberation Sans" font-size="17.5" fill="#ff33ff" text-anchor="middle" letter-spacing="1">18</text>
<text x="730.51" y="322.9" font-family="Liberation Sans" font-size="17.5" fill="#ff33ff" text-anchor="middle" letter-spacing="1">16</text>
<text x="725.6" y="421.2" font-family="Liberation Sans" font-size="17.5" fill="#ff33ff" text-anchor="middle" letter-spacing="1">17</text>
<line x1="699" y1="152.2" x2="699" y2="159.8" stroke="#000" stroke-width="1.5"/>
<line x1="699" y1="54.3" x2="699" y2="61.9" stroke="#000" stroke-width="1.5"/>
<line x1="754.6" y1="152.2" x2="754.6" y2="159.8" stroke="#000" stroke-width="1.5"/>
<line x1="754.6" y1="54.3" x2="754.6" y2="61.9" stroke="#000" stroke-width="1.5"/>
<line x1="726.8" y1="152.2" x2="726.8" y2="156" stroke="#000" stroke-width="1.5"/>
<line x1="726.8" y1="54.3" x2="726.8" y2="58.1" stroke="#000" stroke-width="1.5"/>
<line x1="691.4" y1="127.34" x2="699" y2="127.34" stroke="#000" stroke-width="1.5"/>
<line x1="747" y1="127.34" x2="754.6" y2="127.34" stroke="#000" stroke-width="1.5"/>
<line x1="691.4" y1="94" x2="699" y2="94" stroke="#000" stroke-width="1.5"/>
<line x1="747" y1="94" x2="754.6" y2="94" stroke="#000" stroke-width="1.5"/>
<line x1="691.4" y1="60.66" x2="699" y2="60.66" stroke="#000" stroke-width="1.5"/>
<line x1="747" y1="60.66" x2="754.6" y2="60.66" stroke="#000" stroke-width="1.5"/>
<line x1="695.2" y1="144.01" x2="699" y2="144.01" stroke="#000" stroke-width="1.5"/>
<line x1="750.8" y1="144.01" x2="754.6" y2="144.01" stroke="#000" stroke-width="1.5"/>
<line x1="695.2" y1="110.67" x2="699" y2="110.67" stroke="#000" stroke-width="1.5"/>
<line x1="750.8" y1="110.67" x2="754.6" y2="110.67" stroke="#000" stroke-width="1.5"/>
<line x1="695.2" y1="77.33" x2="699" y2="77.33" stroke="#000" stroke-width="1.5"/>
<line x1="750.8" y1="77.33" x2="754.6" y2="77.33" stroke="#000" stroke-width="1.5"/>
<rect x="699" y="54.3" width="55.6" height="97.9" fill="none" stroke="#a8a8a8" stroke-width="1"/>
<text x="687.6" y="131.74" font-family="Liberation Sans" font-size="11.7" fill="#000" text-anchor="end">122</text>
<text x="687.6" y="98.4" font-family="Liberation Sans" font-size="11.7" fill="#000" text-anchor="end">124</text>
<text x="687.6" y="65.06" font-family="Liberation Sans" font-size="11.7" fill="#000" text-anchor="end">126</text>
<text x="699.5" y="171" font-family="Liberation Sans" font-size="11.7" fill="#000" text-anchor="start">1.45</text>
<text x="755" y="171" font-family="Liberation Sans" font-size="11.7" fill="#000" text-anchor="end">1.46</text>
<polygon points="720.7,85.3 733.3,85.3 727,96.3" fill="#ee3224" stroke="#000" stroke-width="1" stroke-linejoin="miter"/>
<polygon points="720.7,108.5 733.3,108.5 727,119" fill="#ee3224" stroke="#000" stroke-width="1" stroke-linejoin="miter"/>
<line x1="727" y1="79.3" x2="727" y2="85.5" stroke="#ee3224" stroke-width="1.6"/>
<line x1="727" y1="118.5" x2="727" y2="126.4" stroke="#ee3224" stroke-width="1.6"/>
<text x="727.56" y="74.7" font-family="Liberation Sans" font-size="17.5" fill="#ee3224" text-anchor="middle" letter-spacing="1">39</text>
<text x="727.65" y="141.8" font-family="Liberation Sans" font-size="17.5" fill="#ee3224" text-anchor="middle" letter-spacing="1">40</text>
<line x1="699" y1="101.7" x2="566.07" y2="159.8" stroke="#000" stroke-width="1.5"/>
<polygon points="562.4,161.4 570.4,162.49 566.98,159.4 567.04,154.79" fill="#000" stroke="#000" stroke-width="0.3"/>
<rect x="792.5" y="168.6" width="112.3" height="102.4" fill="#fff"/>
<line x1="820.3" y1="271" x2="820.3" y2="278.6" stroke="#000" stroke-width="1.5"/>
<line x1="820.3" y1="168.6" x2="820.3" y2="176.2" stroke="#000" stroke-width="1.5"/>
<line x1="884.5" y1="271" x2="884.5" y2="278.6" stroke="#000" stroke-width="1.5"/>
<line x1="884.5" y1="168.6" x2="884.5" y2="176.2" stroke="#000" stroke-width="1.5"/>
<line x1="852.4" y1="271" x2="852.4" y2="274.8" stroke="#000" stroke-width="1.5"/>
<line x1="852.4" y1="168.6" x2="852.4" y2="172.4" stroke="#000" stroke-width="1.5"/>
<line x1="784.9" y1="267.62" x2="792.5" y2="267.62" stroke="#000" stroke-width="1.5"/>
<line x1="897.2" y1="267.62" x2="904.8" y2="267.62" stroke="#000" stroke-width="1.5"/>
<line x1="784.9" y1="241.96" x2="792.5" y2="241.96" stroke="#000" stroke-width="1.5"/>
<line x1="897.2" y1="241.96" x2="904.8" y2="241.96" stroke="#000" stroke-width="1.5"/>
<line x1="784.9" y1="216.3" x2="792.5" y2="216.3" stroke="#000" stroke-width="1.5"/>
<line x1="897.2" y1="216.3" x2="904.8" y2="216.3" stroke="#000" stroke-width="1.5"/>
<line x1="784.9" y1="190.64" x2="792.5" y2="190.64" stroke="#000" stroke-width="1.5"/>
<line x1="897.2" y1="190.64" x2="904.8" y2="190.64" stroke="#000" stroke-width="1.5"/>
<line x1="788.7" y1="254.79" x2="792.5" y2="254.79" stroke="#000" stroke-width="1.5"/>
<line x1="901" y1="254.79" x2="904.8" y2="254.79" stroke="#000" stroke-width="1.5"/>
<line x1="788.7" y1="229.13" x2="792.5" y2="229.13" stroke="#000" stroke-width="1.5"/>
<line x1="901" y1="229.13" x2="904.8" y2="229.13" stroke="#000" stroke-width="1.5"/>
<line x1="788.7" y1="203.47" x2="792.5" y2="203.47" stroke="#000" stroke-width="1.5"/>
<line x1="901" y1="203.47" x2="904.8" y2="203.47" stroke="#000" stroke-width="1.5"/>
<line x1="788.7" y1="177.81" x2="792.5" y2="177.81" stroke="#000" stroke-width="1.5"/>
<line x1="901" y1="177.81" x2="904.8" y2="177.81" stroke="#000" stroke-width="1.5"/>
<rect x="792.5" y="168.6" width="112.3" height="102.4" fill="none" stroke="#a8a8a8" stroke-width="1"/>
<text x="781.8" y="271.92" font-family="Liberation Sans" font-size="11.7" fill="#000" text-anchor="end">84</text>
<text x="781.8" y="246.26" font-family="Liberation Sans" font-size="11.7" fill="#000" text-anchor="end">86</text>
<text x="781.8" y="220.6" font-family="Liberation Sans" font-size="11.7" fill="#000" text-anchor="end">88</text>
<text x="781.8" y="194.94" font-family="Liberation Sans" font-size="11.7" fill="#000" text-anchor="end">90</text>
<text x="820.16" y="291.2" font-family="Liberation Sans" font-size="11.7" fill="#000" text-anchor="middle">1.52</text>
<text x="884.3" y="291.2" font-family="Liberation Sans" font-size="11.7" fill="#000" text-anchor="middle">1.53</text>
<clipPath id="ci2"><rect x="792.5" y="168.6" width="112.3" height="102.4"/></clipPath>
<path d="M788.2,162.01 L790.23,163.29 L792.27,164.56 L794.3,165.83 L796.33,167.1 L798.36,168.37 L800.4,169.63 L802.43,170.9 L804.46,172.16 L806.5,173.42 L808.53,174.68 L810.56,175.94 L812.6,177.19 L814.63,178.45 L816.66,179.7 L818.69,180.95 L820.73,182.2 L822.76,183.45 L824.79,184.7 L826.83,185.94 L828.86,187.19 L830.89,188.43 L832.93,189.67 L834.96,190.91 L836.99,192.15 L839.02,193.38 L841.06,194.61 L843.09,195.85 L845.12,197.08 L847.16,198.31 L849.19,199.53 L851.22,200.76 L853.26,201.99 L855.29,203.21 L857.32,204.43 L859.35,205.65 L861.39,206.87 L863.42,208.08 L865.45,209.3 L867.49,210.51 L869.52,211.73 L871.55,212.94 L873.59,214.14 L875.62,215.35 L877.65,216.56 L879.68,217.76 L881.72,218.97 L883.75,220.17 L885.78,221.37 L887.82,222.56 L889.85,223.76 L891.88,224.96 L893.92,226.15 L895.95,227.34 L897.98,228.53 L900.02,229.72 L902.05,230.91 L904.08,232.1 L906.11,233.28 L908.15,234.46 L910.18,235.65" fill="none" stroke="#000" stroke-width="1.6" clip-path="url(#ci2)"/>
<circle cx="839.7" cy="203.4" r="5.2" fill="#1530ff" stroke="#000" stroke-width="1.6"/>
<circle cx="846.2" cy="223.4" r="5.2" fill="#1530ff" stroke="#000" stroke-width="1.6"/>
<circle cx="858.8" cy="233.7" r="5.2" fill="#1530ff" stroke="#000" stroke-width="1.6"/>
<circle cx="884.5" cy="223.4" r="5.2" fill="#1530ff" stroke="#000" stroke-width="1.6"/>
<polygon points="839.6,219.4 845.35,229.9 833.85,229.9" fill="#ff3cff" stroke="#000" stroke-width="1" stroke-linejoin="miter"/>
<line x1="815.4" y1="203.4" x2="834.5" y2="203.4" stroke="#1a2dff" stroke-width="1.6"/>
<line x1="845.9" y1="228.5" x2="845.9" y2="241.7" stroke="#1a2dff" stroke-width="1.6"/>
<line x1="863.4" y1="236" x2="876.3" y2="242.5" stroke="#1a2dff" stroke-width="1.6"/>
<line x1="884.5" y1="218.2" x2="884.5" y2="206.3" stroke="#1a2dff" stroke-width="1.6"/>
<line x1="834" y1="230.8" x2="826.2" y2="235.6" stroke="#ff33ff" stroke-width="1.6"/>
<text x="803.65" y="208.9" font-family="Liberation Sans" font-size="17.5" fill="#1a2dff" text-anchor="middle">1</text>
<text x="846.11" y="257.5" font-family="Liberation Sans" font-size="17.5" fill="#1a2dff" text-anchor="middle">2</text>
<text x="886.71" y="248.9" font-family="Liberation Sans" font-size="17.5" fill="#1a2dff" text-anchor="middle">3</text>
<text x="884.5" y="202.7" font-family="Liberation Sans" font-size="17.5" fill="#1a2dff" text-anchor="middle">4</text>
<text x="810.63" y="241.5" font-family="Liberation Sans" font-size="17.5" fill="#ff33ff" text-anchor="middle" letter-spacing="1">14</text>
<line x1="792.5" y1="260.5" x2="643" y2="260.5" stroke="#000" stroke-width="1.5"/>
<polygon points="639,260.5 645.9,264.7 644,260.5 645.9,256.3" fill="#000" stroke="#000" stroke-width="0.3"/>
<rect x="472.2" y="311.5" width="123.5" height="114.5" fill="#fff"/>
<line x1="531" y1="426" x2="531" y2="433.6" stroke="#000" stroke-width="1.5"/>
<line x1="531" y1="311.5" x2="531" y2="319.1" stroke="#000" stroke-width="1.5"/>
<line x1="491.2" y1="426" x2="491.2" y2="429.8" stroke="#000" stroke-width="1.5"/>
<line x1="491.2" y1="311.5" x2="491.2" y2="315.3" stroke="#000" stroke-width="1.5"/>
<line x1="570.8" y1="426" x2="570.8" y2="429.8" stroke="#000" stroke-width="1.5"/>
<line x1="570.8" y1="311.5" x2="570.8" y2="315.3" stroke="#000" stroke-width="1.5"/>
<line x1="464.6" y1="423.5" x2="472.2" y2="423.5" stroke="#000" stroke-width="1.5"/>
<line x1="588.1" y1="423.5" x2="595.7" y2="423.5" stroke="#000" stroke-width="1.5"/>
<line x1="464.6" y1="378.5" x2="472.2" y2="378.5" stroke="#000" stroke-width="1.5"/>
<line x1="588.1" y1="378.5" x2="595.7" y2="378.5" stroke="#000" stroke-width="1.5"/>
<line x1="464.6" y1="333.5" x2="472.2" y2="333.5" stroke="#000" stroke-width="1.5"/>
<line x1="588.1" y1="333.5" x2="595.7" y2="333.5" stroke="#000" stroke-width="1.5"/>
<line x1="468.4" y1="414.5" x2="472.2" y2="414.5" stroke="#000" stroke-width="1.5"/>
<line x1="591.9" y1="414.5" x2="595.7" y2="414.5" stroke="#000" stroke-width="1.5"/>
<line x1="468.4" y1="405.5" x2="472.2" y2="405.5" stroke="#000" stroke-width="1.5"/>
<line x1="591.9" y1="405.5" x2="595.7" y2="405.5" stroke="#000" stroke-width="1.5"/>
<line x1="468.4" y1="396.5" x2="472.2" y2="396.5" stroke="#000" stroke-width="1.5"/>
<line x1="591.9" y1="396.5" x2="595.7" y2="396.5" stroke="#000" stroke-width="1.5"/>
<line x1="468.4" y1="387.5" x2="472.2" y2="387.5" stroke="#000" stroke-width="1.5"/>
<line x1="591.9" y1="387.5" x2="595.7" y2="387.5" stroke="#000" stroke-width="1.5"/>
<line x1="468.4" y1="369.5" x2="472.2" y2="369.5" stroke="#000" stroke-width="1.5"/>
<line x1="591.9" y1="369.5" x2="595.7" y2="369.5" stroke="#000" stroke-width="1.5"/>
<line x1="468.4" y1="360.5" x2="472.2" y2="360.5" stroke="#000" stroke-width="1.5"/>
<line x1="591.9" y1="360.5" x2="595.7" y2="360.5" stroke="#000" stroke-width="1.5"/>
<line x1="468.4" y1="351.5" x2="472.2" y2="351.5" stroke="#000" stroke-width="1.5"/>
<line x1="591.9" y1="351.5" x2="595.7" y2="351.5" stroke="#000" stroke-width="1.5"/>
<line x1="468.4" y1="342.5" x2="472.2" y2="342.5" stroke="#000" stroke-width="1.5"/>
<line x1="591.9" y1="342.5" x2="595.7" y2="342.5" stroke="#000" stroke-width="1.5"/>
<line x1="468.4" y1="324.5" x2="472.2" y2="324.5" stroke="#000" stroke-width="1.5"/>
<line x1="591.9" y1="324.5" x2="595.7" y2="324.5" stroke="#000" stroke-width="1.5"/>
<line x1="468.4" y1="315.5" x2="472.2" y2="315.5" stroke="#000" stroke-width="1.5"/>
<line x1="591.9" y1="315.5" x2="595.7" y2="315.5" stroke="#000" stroke-width="1.5"/>
<rect x="472.2" y="311.5" width="123.5" height="114.5" fill="none" stroke="#a8a8a8" stroke-width="1"/>
<text x="461.6" y="427.7" font-family="Liberation Sans" font-size="11.7" fill="#000" text-anchor="end">95</text>
<text x="461.6" y="382.7" font-family="Liberation Sans" font-size="11.7" fill="#000" text-anchor="end">100</text>
<text x="461.6" y="337.7" font-family="Liberation Sans" font-size="11.7" fill="#000" text-anchor="end">105</text>
<text x="530.8" y="445.7" font-family="Liberation Sans" font-size="11.7" fill="#000" text-anchor="middle">1.5</text>
<clipPath id="ci3"><rect x="472.2" y="311.5" width="123.5" height="114.5"/></clipPath>
<path d="M451.4,374.08 L454.05,375.12 L456.71,376.16 L459.36,377.2 L462.01,378.24 L464.67,379.27 L467.32,380.31 L469.97,381.34 L472.63,382.38 L475.28,383.41 L477.93,384.44 L480.59,385.46 L483.24,386.49 L485.89,387.52 L488.55,388.54 L491.2,389.56 L493.85,390.58 L496.51,391.6 L499.16,392.62 L501.81,393.64 L504.47,394.65 L507.12,395.67 L509.77,396.68 L512.43,397.69 L515.08,398.7 L517.73,399.71 L520.39,400.72 L523.04,401.72 L525.69,402.73 L528.35,403.73 L531,404.73 L533.65,405.73 L536.31,406.73 L538.96,407.73 L541.61,408.72 L544.27,409.72 L546.92,410.71 L549.57,411.7 L552.23,412.69 L554.88,413.68 L557.53,414.67 L560.19,415.66 L562.84,416.64 L565.49,417.63 L568.15,418.61 L570.8,419.59 L573.45,420.57 L576.11,421.55 L578.76,422.53 L581.41,423.5 L584.07,424.48 L586.72,425.45 L589.37,426.42 L592.03,427.39 L594.68,428.36 L597.33,429.33 L599.99,430.3 L602.64,431.26 L605.29,432.23 L607.95,433.19 L610.6,434.15" fill="none" stroke="#000" stroke-width="1.6" clip-path="url(#ci3)"/>
<polygon points="484.9,375.1 497.3,375.1 491.1,384.9" fill="#ee3224" stroke="#000" stroke-width="1" stroke-linejoin="miter"/>
<polygon points="500.9,391.5 513.3,391.5 507.1,401.3" fill="#ee3224" stroke="#000" stroke-width="1" stroke-linejoin="miter"/>
<polygon points="532.8,399.5 545.2,399.5 539,409.3" fill="#ee3224" stroke="#000" stroke-width="1" stroke-linejoin="miter"/>
<polygon points="556.7,344.5 569.1,344.5 562.9,354.3" fill="#ee3224" stroke="#000" stroke-width="1" stroke-linejoin="miter"/>
<polygon points="572.9,359 585.3,359 579.1,368.8" fill="#ee3224" stroke="#000" stroke-width="1" stroke-linejoin="miter"/>
<line x1="491.1" y1="362.4" x2="491.1" y2="375.2" stroke="#ee3224" stroke-width="1.6"/>
<line x1="507.1" y1="380.4" x2="507.1" y2="391.6" stroke="#ee3224" stroke-width="1.6"/>
<line x1="539" y1="388.4" x2="539" y2="399.6" stroke="#ee3224" stroke-width="1.6"/>
<line x1="562.9" y1="332" x2="562.9" y2="344.6" stroke="#ee3224" stroke-width="1.6"/>
<line x1="579.1" y1="348.9" x2="579.1" y2="359.1" stroke="#ee3224" stroke-width="1.6"/>
<text x="491.71" y="358" font-family="Liberation Sans" font-size="17.5" fill="#ee3224" text-anchor="middle" letter-spacing="1">32</text>
<text x="507.52" y="376.2" font-family="Liberation Sans" font-size="17.5" fill="#ee3224" text-anchor="middle" letter-spacing="1">35</text>
<text x="539.32" y="384.3" font-family="Liberation Sans" font-size="17.5" fill="#ee3224" text-anchor="middle" letter-spacing="1">36</text>
<text x="563.7" y="326.9" font-family="Liberation Sans" font-size="17.5" fill="#ee3224" text-anchor="middle" letter-spacing="1">45</text>
<text x="579.4" y="344.9" font-family="Liberation Sans" font-size="17.5" fill="#ee3224" text-anchor="middle" letter-spacing="1">46</text>
<line x1="555.6" y1="311" x2="587.63" y2="254.48" stroke="#000" stroke-width="1.5"/>
<polygon points="589.6,251 582.54,254.93 587.13,255.35 589.85,259.07" fill="#000" stroke="#000" stroke-width="0.3"/>
<line x1="158.7" y1="1044.2" x2="158.7" y2="1051.8" stroke="#000" stroke-width="1.5"/>
<line x1="158.7" y1="618.6" x2="158.7" y2="626.2" stroke="#000" stroke-width="1.5"/>
<line x1="239.16" y1="1044.2" x2="239.16" y2="1051.8" stroke="#000" stroke-width="1.5"/>
<line x1="239.16" y1="618.6" x2="239.16" y2="626.2" stroke="#000" stroke-width="1.5"/>
<line x1="319.62" y1="1044.2" x2="319.62" y2="1051.8" stroke="#000" stroke-width="1.5"/>
<line x1="319.62" y1="618.6" x2="319.62" y2="626.2" stroke="#000" stroke-width="1.5"/>
<line x1="400.08" y1="1044.2" x2="400.08" y2="1051.8" stroke="#000" stroke-width="1.5"/>
<line x1="400.08" y1="618.6" x2="400.08" y2="626.2" stroke="#000" stroke-width="1.5"/>
<line x1="480.54" y1="1044.2" x2="480.54" y2="1051.8" stroke="#000" stroke-width="1.5"/>
<line x1="480.54" y1="618.6" x2="480.54" y2="626.2" stroke="#000" stroke-width="1.5"/>
<line x1="561" y1="1044.2" x2="561" y2="1051.8" stroke="#000" stroke-width="1.5"/>
<line x1="561" y1="618.6" x2="561" y2="626.2" stroke="#000" stroke-width="1.5"/>
<line x1="641.46" y1="1044.2" x2="641.46" y2="1051.8" stroke="#000" stroke-width="1.5"/>
<line x1="641.46" y1="618.6" x2="641.46" y2="626.2" stroke="#000" stroke-width="1.5"/>
<line x1="118.47" y1="1044.2" x2="118.47" y2="1048" stroke="#000" stroke-width="1.5"/>
<line x1="118.47" y1="618.6" x2="118.47" y2="622.4" stroke="#000" stroke-width="1.5"/>
<line x1="198.93" y1="1044.2" x2="198.93" y2="1048" stroke="#000" stroke-width="1.5"/>
<line x1="198.93" y1="618.6" x2="198.93" y2="622.4" stroke="#000" stroke-width="1.5"/>
<line x1="279.39" y1="1044.2" x2="279.39" y2="1048" stroke="#000" stroke-width="1.5"/>
<line x1="279.39" y1="618.6" x2="279.39" y2="622.4" stroke="#000" stroke-width="1.5"/>
<line x1="359.85" y1="1044.2" x2="359.85" y2="1048" stroke="#000" stroke-width="1.5"/>
<line x1="359.85" y1="618.6" x2="359.85" y2="622.4" stroke="#000" stroke-width="1.5"/>
<line x1="440.31" y1="1044.2" x2="440.31" y2="1048" stroke="#000" stroke-width="1.5"/>
<line x1="440.31" y1="618.6" x2="440.31" y2="622.4" stroke="#000" stroke-width="1.5"/>
<line x1="520.77" y1="1044.2" x2="520.77" y2="1048" stroke="#000" stroke-width="1.5"/>
<line x1="520.77" y1="618.6" x2="520.77" y2="622.4" stroke="#000" stroke-width="1.5"/>
<line x1="601.23" y1="1044.2" x2="601.23" y2="1048" stroke="#000" stroke-width="1.5"/>
<line x1="601.23" y1="618.6" x2="601.23" y2="622.4" stroke="#000" stroke-width="1.5"/>
<line x1="78.8" y1="1032.5" x2="86.4" y2="1032.5" stroke="#000" stroke-width="1.5"/>
<line x1="647.7" y1="1032.5" x2="655.3" y2="1032.5" stroke="#000" stroke-width="1.5"/>
<line x1="78.8" y1="975.4" x2="86.4" y2="975.4" stroke="#000" stroke-width="1.5"/>
<line x1="647.7" y1="975.4" x2="655.3" y2="975.4" stroke="#000" stroke-width="1.5"/>
<line x1="78.8" y1="918.3" x2="86.4" y2="918.3" stroke="#000" stroke-width="1.5"/>
<line x1="647.7" y1="918.3" x2="655.3" y2="918.3" stroke="#000" stroke-width="1.5"/>
<line x1="78.8" y1="861.2" x2="86.4" y2="861.2" stroke="#000" stroke-width="1.5"/>
<line x1="647.7" y1="861.2" x2="655.3" y2="861.2" stroke="#000" stroke-width="1.5"/>
<line x1="78.8" y1="804.1" x2="86.4" y2="804.1" stroke="#000" stroke-width="1.5"/>
<line x1="647.7" y1="804.1" x2="655.3" y2="804.1" stroke="#000" stroke-width="1.5"/>
<line x1="78.8" y1="747" x2="86.4" y2="747" stroke="#000" stroke-width="1.5"/>
<line x1="647.7" y1="747" x2="655.3" y2="747" stroke="#000" stroke-width="1.5"/>
<line x1="78.8" y1="689.9" x2="86.4" y2="689.9" stroke="#000" stroke-width="1.5"/>
<line x1="647.7" y1="689.9" x2="655.3" y2="689.9" stroke="#000" stroke-width="1.5"/>
<line x1="78.8" y1="632.8" x2="86.4" y2="632.8" stroke="#000" stroke-width="1.5"/>
<line x1="647.7" y1="632.8" x2="655.3" y2="632.8" stroke="#000" stroke-width="1.5"/>
<line x1="82.6" y1="1003.95" x2="86.4" y2="1003.95" stroke="#000" stroke-width="1.5"/>
<line x1="651.5" y1="1003.95" x2="655.3" y2="1003.95" stroke="#000" stroke-width="1.5"/>
<line x1="82.6" y1="946.85" x2="86.4" y2="946.85" stroke="#000" stroke-width="1.5"/>
<line x1="651.5" y1="946.85" x2="655.3" y2="946.85" stroke="#000" stroke-width="1.5"/>
<line x1="82.6" y1="889.75" x2="86.4" y2="889.75" stroke="#000" stroke-width="1.5"/>
<line x1="651.5" y1="889.75" x2="655.3" y2="889.75" stroke="#000" stroke-width="1.5"/>
<line x1="82.6" y1="832.65" x2="86.4" y2="832.65" stroke="#000" stroke-width="1.5"/>
<line x1="651.5" y1="832.65" x2="655.3" y2="832.65" stroke="#000" stroke-width="1.5"/>
<line x1="82.6" y1="775.55" x2="86.4" y2="775.55" stroke="#000" stroke-width="1.5"/>
<line x1="651.5" y1="775.55" x2="655.3" y2="775.55" stroke="#000" stroke-width="1.5"/>
<line x1="82.6" y1="718.45" x2="86.4" y2="718.45" stroke="#000" stroke-width="1.5"/>
<line x1="651.5" y1="718.45" x2="655.3" y2="718.45" stroke="#000" stroke-width="1.5"/>
<line x1="82.6" y1="661.35" x2="86.4" y2="661.35" stroke="#000" stroke-width="1.5"/>
<line x1="651.5" y1="661.35" x2="655.3" y2="661.35" stroke="#000" stroke-width="1.5"/>
<rect x="86.4" y="618.6" width="568.9" height="425.6" fill="none" stroke="#000" stroke-width="1.5"/>
<text x="74" y="1038.1" font-family="Liberation Sans" font-size="17.2" fill="#000" text-anchor="end">20</text>
<text x="74" y="981" font-family="Liberation Sans" font-size="17.2" fill="#000" text-anchor="end">40</text>
<text x="74" y="923.9" font-family="Liberation Sans" font-size="17.2" fill="#000" text-anchor="end">60</text>
<text x="74" y="866.8" font-family="Liberation Sans" font-size="17.2" fill="#000" text-anchor="end">80</text>
<text x="74" y="809.7" font-family="Liberation Sans" font-size="17.2" fill="#000" text-anchor="end">100</text>
<text x="74" y="752.6" font-family="Liberation Sans" font-size="17.2" fill="#000" text-anchor="end">120</text>
<text x="74" y="695.5" font-family="Liberation Sans" font-size="17.2" fill="#000" text-anchor="end">140</text>
<text x="74" y="638.4" font-family="Liberation Sans" font-size="17.2" fill="#000" text-anchor="end">160</text>
<text x="158.62" y="1068.4" font-family="Liberation Sans" font-size="17.2" fill="#000" text-anchor="middle">0.4</text>
<text x="239.16" y="1068.4" font-family="Liberation Sans" font-size="17.2" fill="#000" text-anchor="middle">0.6</text>
<text x="319.62" y="1068.4" font-family="Liberation Sans" font-size="17.2" fill="#000" text-anchor="middle">0.8</text>
<text x="399.74" y="1068.4" font-family="Liberation Sans" font-size="17.2" fill="#000" text-anchor="middle">1.0</text>
<text x="480.33" y="1068.4" font-family="Liberation Sans" font-size="17.2" fill="#000" text-anchor="middle">1.2</text>
<text x="560.61" y="1068.4" font-family="Liberation Sans" font-size="17.2" fill="#000" text-anchor="middle">1.4</text>
<text x="641.16" y="1068.4" font-family="Liberation Sans" font-size="17.2" fill="#000" text-anchor="middle">1.6</text>
<text transform="translate(35.3,831.4) rotate(-90)" x="0" y="0" font-family="Liberation Sans" font-size="18" text-anchor="middle">Bond Dissociation Enthalpy (BDH) [kcal/mol]</text>
<text x="370.9" y="1095.2" font-family="Liberation Sans" font-size="18" fill="#000" text-anchor="middle">C-C Bond Strength Order n</text>
<text x="346.5" y="1142.6" font-family="Liberation Serif" font-size="25.5" text-anchor="middle">(<tspan font-weight="bold" font-size="23.71">b</tspan>)</text>
<clipPath id="cb"><rect x="86.4" y="618.6" width="568.9" height="425.6"/></clipPath>
<line x1="113.12" y1="1015.38" x2="630.6" y2="647.4" stroke="#000" stroke-width="1.6"/>
<rect x="491.5" y="927.1" width="149" height="101.5" fill="none" stroke="#a8a8a8" stroke-width="1"/>
<circle cx="507.5" cy="938.9" r="4.9" fill="#1530ff" stroke="#000" stroke-width="1.6"/>
<polygon points="507.5,953.6 513.5,963.6 501.5,963.6" fill="#ff3cff" stroke="#000" stroke-width="1" stroke-linejoin="miter"/>
<polygon points="507.5,971.3 513.5,977.3 507.5,983.3 501.5,977.3" fill="#12eef6" stroke="#000" stroke-width="1" stroke-linejoin="miter"/>
<polygon points="507.5,988.2 509.55,993.68 515.39,993.94 510.82,997.58 512.38,1003.21 507.5,999.99 502.62,1003.21 504.18,997.58 499.61,993.94 505.45,993.68" fill="#ff9000" stroke="#000" stroke-width="1" stroke-linejoin="miter"/>
<polygon points="501.3,1011.2 513.7,1011.2 507.5,1021.2" fill="#ee3224" stroke="#000" stroke-width="1" stroke-linejoin="miter"/>
<text x="523.4" y="945.1" font-family="Liberation Sans" font-size="16" fill="#000" text-anchor="start" letter-spacing="0.1">Group I</text>
<text x="523.4" y="964.2" font-family="Liberation Sans" font-size="16" fill="#000" text-anchor="start" letter-spacing="0.1">Group II</text>
<text x="523.4" y="983.4" font-family="Liberation Sans" font-size="16" fill="#000" text-anchor="start" letter-spacing="0.1">Group III</text>
<text x="523.4" y="1002.5" font-family="Liberation Sans" font-size="16" fill="#000" text-anchor="start" letter-spacing="0.1">Group V</text>
<text x="523.4" y="1021.6" font-family="Liberation Sans" font-size="16" fill="#000" text-anchor="start" letter-spacing="0.1">Groups VI &amp; VII</text>
<text x="509.2" y="869.3" font-family="Liberation Sans" font-size="16.2" fill="#000" text-anchor="start">R</text>
<text x="520.52" y="862.7" font-family="Liberation Sans" font-size="11.5" fill="#000" text-anchor="start">2</text>
<text x="531.79" y="869.3" font-family="Liberation Sans" font-size="16.2" fill="#000" text-anchor="start" letter-spacing="-0.09">= 0.893</text>
<rect x="376.4" y="769.3" width="55.3" height="93.6" fill="none" stroke="#a8a8a8" stroke-width="1"/>
<polygon points="624.3,634.5 636.9,634.5 630.6,644.9" fill="#ee3224" stroke="#000" stroke-width="1" stroke-linejoin="miter"/>
<polygon points="620.7,655.7 633.3,655.7 627,666.1" fill="#ee3224" stroke="#000" stroke-width="1" stroke-linejoin="miter"/>
<polygon points="495.8,710.6 508.4,710.6 502.1,721" fill="#ee3224" stroke="#000" stroke-width="1" stroke-linejoin="miter"/>
<polygon points="509.7,700.2 522.3,700.2 516,710.6" fill="#ee3224" stroke="#000" stroke-width="1" stroke-linejoin="miter"/>
<polygon points="398.2,729.5 410.8,729.5 404.5,739.9" fill="#ee3224" stroke="#000" stroke-width="1" stroke-linejoin="miter"/>
<polygon points="463.1,735.5 475.7,735.5 469.4,745.9" fill="#ee3224" stroke="#000" stroke-width="1" stroke-linejoin="miter"/>
<polygon points="471.4,731.4 484,731.4 477.7,741.8" fill="#ee3224" stroke="#000" stroke-width="1" stroke-linejoin="miter"/>
<polygon points="374.3,802.6 386.9,802.6 380.6,813" fill="#ee3224" stroke="#000" stroke-width="1" stroke-linejoin="miter"/>
<polygon points="390.8,812.3 403.4,812.3 397.1,822.7" fill="#ee3224" stroke="#000" stroke-width="1" stroke-linejoin="miter"/>
<polygon points="406.2,808.7 418.8,808.7 412.5,819.1" fill="#ee3224" stroke="#000" stroke-width="1" stroke-linejoin="miter"/>
<polygon points="413.8,806.6 426.4,806.6 420.1,817" fill="#ee3224" stroke="#000" stroke-width="1" stroke-linejoin="miter"/>
<polygon points="421.2,801.4 433.8,801.4 427.5,811.8" fill="#ee3224" stroke="#000" stroke-width="1" stroke-linejoin="miter"/>
<polygon points="411,796 423.6,796 417.3,806.4" fill="#ee3224" stroke="#000" stroke-width="1" stroke-linejoin="miter"/>
<polygon points="417.4,791.4 430,791.4 423.7,801.8" fill="#ee3224" stroke="#000" stroke-width="1" stroke-linejoin="miter"/>
<line x1="608.2" y1="637.8" x2="625" y2="637.8" stroke="#ee3224" stroke-width="1.6"/>
<line x1="627" y1="665" x2="627" y2="679.2" stroke="#ee3224" stroke-width="1.6"/>
<line x1="502.1" y1="699.2" x2="502.1" y2="710.7" stroke="#ee3224" stroke-width="1.6"/>
<line x1="520.7" y1="700" x2="530.7" y2="693.5" stroke="#ee3224" stroke-width="1.6"/>
<line x1="398.5" y1="729" x2="390.5" y2="723.1" stroke="#ee3224" stroke-width="1.6"/>
<line x1="464.1" y1="735.5" x2="455.6" y2="729" stroke="#ee3224" stroke-width="1.6"/>
<line x1="477.7" y1="717.4" x2="477.7" y2="731.5" stroke="#ee3224" stroke-width="1.6"/>
<text x="594.58" y="642.9" font-family="Liberation Sans" font-size="15.8" fill="#ee3224" text-anchor="middle" letter-spacing="0.4">43</text>
<text x="626.8" y="693.5" font-family="Liberation Sans" font-size="15.8" fill="#ee3224" text-anchor="middle" letter-spacing="0.4">44</text>
<text x="502.46" y="695.3" font-family="Liberation Sans" font-size="15.8" fill="#ee3224" text-anchor="middle" letter-spacing="0.4">42</text>
<text x="530.62" y="691" font-family="Liberation Sans" font-size="15.8" fill="#ee3224" text-anchor="middle" letter-spacing="0.4">41</text>
<text x="376.96" y="727" font-family="Liberation Sans" font-size="15.8" fill="#ee3224" text-anchor="middle" letter-spacing="0.4">47</text>
<text x="455.74" y="726.3" font-family="Liberation Sans" font-size="15.8" fill="#ee3224" text-anchor="middle" letter-spacing="0.4">40</text>
<text x="477.76" y="713.7" font-family="Liberation Sans" font-size="15.8" fill="#ee3224" text-anchor="middle" letter-spacing="0.4">39</text>
<polygon points="416.3,742.1 422.6,753.1 410,753.1" fill="#ff3cff" stroke="#000" stroke-width="1" stroke-linejoin="miter"/>
<line x1="419" y1="746.6" x2="426.4" y2="738.7" stroke="#ff33ff" stroke-width="1.6"/>
<text x="426.44" y="735.9" font-family="Liberation Sans" font-size="15.8" fill="#ff33ff" text-anchor="middle" letter-spacing="0.4">15</text>
<circle cx="383.1" cy="840.1" r="5.2" fill="#1530ff" stroke="#000" stroke-width="1.6"/>
<circle cx="389.9" cy="843.2" r="5.2" fill="#1530ff" stroke="#000" stroke-width="1.6"/>
<circle cx="394.7" cy="839.4" r="5.2" fill="#1530ff" stroke="#000" stroke-width="1.6"/>
<circle cx="400.2" cy="835.6" r="5.2" fill="#1530ff" stroke="#000" stroke-width="1.6"/>
<polygon points="400,836.5 405.5,846 394.5,846" fill="#ff3cff" stroke="#000" stroke-width="1" stroke-linejoin="miter"/>
<polygon points="395.1,833.2 397.22,838.88 403.28,839.14 398.54,842.92 400.15,848.76 395.1,845.41 390.05,848.76 391.66,842.92 386.92,839.14 392.98,838.88" fill="#ff9000" stroke="#000" stroke-width="1" stroke-linejoin="miter"/>
<circle cx="366.4" cy="853.4" r="5.2" fill="#1530ff" stroke="#000" stroke-width="1.6"/>
<circle cx="322.5" cy="860" r="5.2" fill="#1530ff" stroke="#000" stroke-width="1.6"/>
<circle cx="292.8" cy="881.1" r="5.2" fill="#1530ff" stroke="#000" stroke-width="1.6"/>
<circle cx="357.7" cy="898.8" r="5.2" fill="#1530ff" stroke="#000" stroke-width="1.6"/>
<circle cx="278.2" cy="914.9" r="5.2" fill="#1530ff" stroke="#000" stroke-width="1.6"/>
<circle cx="243.5" cy="940.6" r="5.2" fill="#1530ff" stroke="#000" stroke-width="1.6"/>
<circle cx="254.7" cy="937.3" r="5.2" fill="#1530ff" stroke="#000" stroke-width="1.6"/>
<circle cx="209.4" cy="993.2" r="5.2" fill="#1530ff" stroke="#000" stroke-width="1.6"/>
<polygon points="286.4,859.2 292.6,865.4 286.4,871.6 280.2,865.4" fill="#12eef6" stroke="#000" stroke-width="1" stroke-linejoin="miter"/>
<polygon points="253.1,879.8 259.3,886 253.1,892.2 246.9,886" fill="#12eef6" stroke="#000" stroke-width="1" stroke-linejoin="miter"/>
<polygon points="240,899.9 246.2,906.1 240,912.3 233.8,906.1" fill="#12eef6" stroke="#000" stroke-width="1" stroke-linejoin="miter"/>
<polygon points="298.5,871.4 300.62,877.08 306.68,877.34 301.94,881.12 303.55,886.96 298.5,883.61 293.45,886.96 295.06,881.12 290.32,877.34 296.38,877.08" fill="#ff9000" stroke="#000" stroke-width="1" stroke-linejoin="miter"/>
<polygon points="291.4,883.5 297.15,892.7 285.65,892.7" fill="#ff3cff" stroke="#000" stroke-width="1" stroke-linejoin="miter"/>
<polygon points="307.4,878.8 313.4,888 301.4,888" fill="#ff3cff" stroke="#000" stroke-width="1" stroke-linejoin="miter"/>
<polygon points="262.5,941.1 268.25,950.7 256.75,950.7" fill="#ff3cff" stroke="#000" stroke-width="1" stroke-linejoin="miter"/>
<polygon points="112.8,963.9 114.92,969.58 120.98,969.84 116.24,973.62 117.85,979.46 112.8,976.11 107.75,979.46 109.36,973.62 104.62,969.84 110.68,969.58" fill="#ff9000" stroke="#000" stroke-width="1" stroke-linejoin="miter"/>
<polygon points="121.1,959.2 123.22,964.88 129.28,965.14 124.54,968.92 126.15,974.76 121.1,971.41 116.05,974.76 117.66,968.92 112.92,965.14 118.98,964.88" fill="#ff9000" stroke="#000" stroke-width="1" stroke-linejoin="miter"/>
<line x1="322.5" y1="854.3" x2="322.5" y2="838.6" stroke="#1a2dff" stroke-width="1.6"/>
<line x1="272.5" y1="881.4" x2="287.5" y2="881.4" stroke="#1a2dff" stroke-width="1.6"/>
<line x1="366.3" y1="859.3" x2="366.3" y2="866.4" stroke="#1a2dff" stroke-width="1.6"/>
<line x1="357.7" y1="904.9" x2="357.7" y2="921.6" stroke="#1a2dff" stroke-width="1.6"/>
<line x1="278.8" y1="921.4" x2="280.2" y2="929.6" stroke="#1a2dff" stroke-width="1.6"/>
<line x1="238.5" y1="936.3" x2="224.6" y2="925.4" stroke="#1a2dff" stroke-width="1.6"/>
<line x1="254.7" y1="942.8" x2="254.7" y2="949.9" stroke="#1a2dff" stroke-width="1.6"/>
<line x1="209.4" y1="999" x2="209.4" y2="1010.5" stroke="#1a2dff" stroke-width="1.6"/>
<line x1="286.4" y1="859.3" x2="286.4" y2="846.8" stroke="#12eeff" stroke-width="1.6"/>
<line x1="253.1" y1="879.7" x2="253.1" y2="864.3" stroke="#12eeff" stroke-width="1.6"/>
<line x1="236.4" y1="902.5" x2="227.8" y2="892.8" stroke="#12eeff" stroke-width="1.6"/>
<line x1="299.9" y1="873.5" x2="305.9" y2="858.5" stroke="#ff8c1a" stroke-width="1.6"/>
<line x1="112.8" y1="977" x2="112.8" y2="985" stroke="#ff8c1a" stroke-width="1.6"/>
<line x1="121.1" y1="962.8" x2="121.1" y2="951.4" stroke="#ff8c1a" stroke-width="1.6"/>
<line x1="291.4" y1="892.1" x2="291.4" y2="899.2" stroke="#ff33ff" stroke-width="1.6"/>
<line x1="307.4" y1="887.4" x2="307.4" y2="911.4" stroke="#ff33ff" stroke-width="1.6"/>
<line x1="266" y1="952" x2="272.8" y2="958.2" stroke="#ff33ff" stroke-width="1.6"/>
<text x="322.43" y="835.4" font-family="Liberation Sans" font-size="15.8" fill="#1a2dff" text-anchor="middle">6</text>
<text x="272.21" y="878.6" font-family="Liberation Sans" font-size="15.8" fill="#1a2dff" text-anchor="middle">9</text>
<text x="366.51" y="881.1" font-family="Liberation Sans" font-size="15.8" fill="#1a2dff" text-anchor="middle">5</text>
<text x="357.71" y="935.3" font-family="Liberation Sans" font-size="15.8" fill="#1a2dff" text-anchor="middle">7</text>
<text x="280.4" y="943.5" font-family="Liberation Sans" font-size="15.8" fill="#1a2dff" text-anchor="middle" letter-spacing="0.4">10</text>
<text x="224.19" y="921.8" font-family="Liberation Sans" font-size="15.8" fill="#1a2dff" text-anchor="middle" letter-spacing="0.4">11</text>
<text x="254.57" y="963.9" font-family="Liberation Sans" font-size="15.8" fill="#1a2dff" text-anchor="middle">8</text>
<text x="209.64" y="1024.8" font-family="Liberation Sans" font-size="15.8" fill="#1a2dff" text-anchor="middle" letter-spacing="0.4">13</text>
<text x="286.48" y="843.5" font-family="Liberation Sans" font-size="15.8" fill="#12eeff" text-anchor="middle" letter-spacing="0.4">19</text>
<text x="253.1" y="861.1" font-family="Liberation Sans" font-size="15.8" fill="#12eeff" text-anchor="middle" letter-spacing="0.4">20</text>
<text x="227.18" y="889.6" font-family="Liberation Sans" font-size="15.8" fill="#12eeff" text-anchor="middle" letter-spacing="0.4">21</text>
<text x="306.18" y="855.4" font-family="Liberation Sans" font-size="15.8" fill="#ff8c1a" text-anchor="middle" letter-spacing="0.4">29</text>
<text x="112.61" y="998.9" font-family="Liberation Sans" font-size="15.8" fill="#ff8c1a" text-anchor="middle" letter-spacing="0.4">30a</text>
<text x="121.03" y="948.2" font-family="Liberation Sans" font-size="15.8" fill="#ff8c1a" text-anchor="middle" letter-spacing="0.4">30b</text>
<text x="291.44" y="913.2" font-family="Liberation Sans" font-size="15.8" fill="#ff33ff" text-anchor="middle" letter-spacing="0.4">16</text>
<text x="307.94" y="925.3" font-family="Liberation Sans" font-size="15.8" fill="#ff33ff" text-anchor="middle" letter-spacing="0.4">18</text>
<text x="286.22" y="963.2" font-family="Liberation Sans" font-size="15.8" fill="#ff33ff" text-anchor="middle" letter-spacing="0.4">17</text>
<rect x="125.1" y="637.7" width="215.3" height="145.7" fill="#fff"/>
<line x1="136.4" y1="783.4" x2="136.4" y2="791" stroke="#000" stroke-width="1.5"/>
<line x1="136.4" y1="637.7" x2="136.4" y2="645.3" stroke="#000" stroke-width="1.5"/>
<line x1="215.4" y1="783.4" x2="215.4" y2="791" stroke="#000" stroke-width="1.5"/>
<line x1="215.4" y1="637.7" x2="215.4" y2="645.3" stroke="#000" stroke-width="1.5"/>
<line x1="294.4" y1="783.4" x2="294.4" y2="791" stroke="#000" stroke-width="1.5"/>
<line x1="294.4" y1="637.7" x2="294.4" y2="645.3" stroke="#000" stroke-width="1.5"/>
<line x1="152.2" y1="783.4" x2="152.2" y2="787.2" stroke="#000" stroke-width="1.5"/>
<line x1="152.2" y1="637.7" x2="152.2" y2="641.5" stroke="#000" stroke-width="1.5"/>
<line x1="168" y1="783.4" x2="168" y2="787.2" stroke="#000" stroke-width="1.5"/>
<line x1="168" y1="637.7" x2="168" y2="641.5" stroke="#000" stroke-width="1.5"/>
<line x1="183.8" y1="783.4" x2="183.8" y2="787.2" stroke="#000" stroke-width="1.5"/>
<line x1="183.8" y1="637.7" x2="183.8" y2="641.5" stroke="#000" stroke-width="1.5"/>
<line x1="199.6" y1="783.4" x2="199.6" y2="787.2" stroke="#000" stroke-width="1.5"/>
<line x1="199.6" y1="637.7" x2="199.6" y2="641.5" stroke="#000" stroke-width="1.5"/>
<line x1="231.2" y1="783.4" x2="231.2" y2="787.2" stroke="#000" stroke-width="1.5"/>
<line x1="231.2" y1="637.7" x2="231.2" y2="641.5" stroke="#000" stroke-width="1.5"/>
<line x1="247" y1="783.4" x2="247" y2="787.2" stroke="#000" stroke-width="1.5"/>
<line x1="247" y1="637.7" x2="247" y2="641.5" stroke="#000" stroke-width="1.5"/>
<line x1="262.8" y1="783.4" x2="262.8" y2="787.2" stroke="#000" stroke-width="1.5"/>
<line x1="262.8" y1="637.7" x2="262.8" y2="641.5" stroke="#000" stroke-width="1.5"/>
<line x1="278.6" y1="783.4" x2="278.6" y2="787.2" stroke="#000" stroke-width="1.5"/>
<line x1="278.6" y1="637.7" x2="278.6" y2="641.5" stroke="#000" stroke-width="1.5"/>
<line x1="310.2" y1="783.4" x2="310.2" y2="787.2" stroke="#000" stroke-width="1.5"/>
<line x1="310.2" y1="637.7" x2="310.2" y2="641.5" stroke="#000" stroke-width="1.5"/>
<line x1="326" y1="783.4" x2="326" y2="787.2" stroke="#000" stroke-width="1.5"/>
<line x1="326" y1="637.7" x2="326" y2="641.5" stroke="#000" stroke-width="1.5"/>
<line x1="117.5" y1="780.7" x2="125.1" y2="780.7" stroke="#000" stroke-width="1.5"/>
<line x1="332.8" y1="780.7" x2="340.4" y2="780.7" stroke="#000" stroke-width="1.5"/>
<line x1="117.5" y1="736.2" x2="125.1" y2="736.2" stroke="#000" stroke-width="1.5"/>
<line x1="332.8" y1="736.2" x2="340.4" y2="736.2" stroke="#000" stroke-width="1.5"/>
<line x1="117.5" y1="691.7" x2="125.1" y2="691.7" stroke="#000" stroke-width="1.5"/>
<line x1="332.8" y1="691.7" x2="340.4" y2="691.7" stroke="#000" stroke-width="1.5"/>
<line x1="117.5" y1="647.2" x2="125.1" y2="647.2" stroke="#000" stroke-width="1.5"/>
<line x1="332.8" y1="647.2" x2="340.4" y2="647.2" stroke="#000" stroke-width="1.5"/>
<line x1="121.3" y1="758.45" x2="125.1" y2="758.45" stroke="#000" stroke-width="1.5"/>
<line x1="336.6" y1="758.45" x2="340.4" y2="758.45" stroke="#000" stroke-width="1.5"/>
<line x1="121.3" y1="713.95" x2="125.1" y2="713.95" stroke="#000" stroke-width="1.5"/>
<line x1="336.6" y1="713.95" x2="340.4" y2="713.95" stroke="#000" stroke-width="1.5"/>
<line x1="121.3" y1="669.45" x2="125.1" y2="669.45" stroke="#000" stroke-width="1.5"/>
<line x1="336.6" y1="669.45" x2="340.4" y2="669.45" stroke="#000" stroke-width="1.5"/>
<rect x="125.1" y="637.7" width="215.3" height="145.7" fill="none" stroke="#a8a8a8" stroke-width="1"/>
<text x="114.3" y="784.7" font-family="Liberation Sans" font-size="11.7" fill="#000" text-anchor="end">80</text>
<text x="114.3" y="740.2" font-family="Liberation Sans" font-size="11.7" fill="#000" text-anchor="end">90</text>
<text x="114.3" y="695.7" font-family="Liberation Sans" font-size="11.7" fill="#000" text-anchor="end">100</text>
<text x="114.3" y="651.2" font-family="Liberation Sans" font-size="11.7" fill="#000" text-anchor="end">110</text>
<text x="136.41" y="802.6" font-family="Liberation Sans" font-size="11.7" fill="#000" text-anchor="middle">0.95</text>
<text x="215.17" y="802.6" font-family="Liberation Sans" font-size="11.7" fill="#000" text-anchor="middle">1.00</text>
<text x="294.2" y="802.6" font-family="Liberation Sans" font-size="11.7" fill="#000" text-anchor="middle">1.05</text>
<clipPath id="cbi"><rect x="125.1" y="637.7" width="215.3" height="145.7"/></clipPath>
<line x1="125.1" y1="728" x2="340.4" y2="667.3" stroke="#000" stroke-width="1.5"/>
<polygon points="133.3,691.3 145.7,691.3 139.5,701.3" fill="#ee3224" stroke="#000" stroke-width="1" stroke-linejoin="miter"/>
<polygon points="198,705.7 210.4,705.7 204.2,715.7" fill="#ee3224" stroke="#000" stroke-width="1" stroke-linejoin="miter"/>
<polygon points="278.5,681 290.9,681 284.7,691" fill="#ee3224" stroke="#000" stroke-width="1" stroke-linejoin="miter"/>
<polygon points="302.5,673.7 314.9,673.7 308.7,683.7" fill="#ee3224" stroke="#000" stroke-width="1" stroke-linejoin="miter"/>
<polygon points="259.7,700.6 272.1,700.6 265.9,710.6" fill="#ee3224" stroke="#000" stroke-width="1" stroke-linejoin="miter"/>
<polygon points="289.7,696.5 302.1,696.5 295.9,706.5" fill="#ee3224" stroke="#000" stroke-width="1" stroke-linejoin="miter"/>
<polygon points="316.7,689.1 329.1,689.1 322.9,699.1" fill="#ee3224" stroke="#000" stroke-width="1" stroke-linejoin="miter"/>
<line x1="139.5" y1="681" x2="139.5" y2="691.4" stroke="#ee3224" stroke-width="1.6"/>
<line x1="204.2" y1="690.3" x2="204.2" y2="705.8" stroke="#ee3224" stroke-width="1.6"/>
<line x1="284.7" y1="668" x2="284.7" y2="681.1" stroke="#ee3224" stroke-width="1.6"/>
<line x1="308.7" y1="664.3" x2="308.7" y2="673.8" stroke="#ee3224" stroke-width="1.6"/>
<line x1="265.9" y1="709.7" x2="265.9" y2="716.5" stroke="#ee3224" stroke-width="1.6"/>
<line x1="295.9" y1="705.4" x2="295.9" y2="713.6" stroke="#ee3224" stroke-width="1.6"/>
<line x1="322.9" y1="698.2" x2="322.9" y2="707.4" stroke="#ee3224" stroke-width="1.6"/>
<text x="139.87" y="677.5" font-family="Liberation Sans" font-size="15.3" fill="#ee3224" text-anchor="middle" letter-spacing="0.4">48</text>
<text x="204.69" y="687.3" font-family="Liberation Sans" font-size="15.3" fill="#ee3224" text-anchor="middle" letter-spacing="0.4">37</text>
<text x="285.37" y="664.7" font-family="Liberation Sans" font-size="15.3" fill="#ee3224" text-anchor="middle" letter-spacing="0.4">46</text>
<text x="308.97" y="661.2" font-family="Liberation Sans" font-size="15.3" fill="#ee3224" text-anchor="middle" letter-spacing="0.4">45</text>
<text x="265.92" y="730.3" font-family="Liberation Sans" font-size="15.3" fill="#ee3224" text-anchor="middle" letter-spacing="0.4">36</text>
<text x="295.92" y="727.2" font-family="Liberation Sans" font-size="15.3" fill="#ee3224" text-anchor="middle" letter-spacing="0.4">35</text>
<text x="322.89" y="720.8" font-family="Liberation Sans" font-size="15.3" fill="#ee3224" text-anchor="middle" letter-spacing="0.4">32</text>
<circle cx="215.7" cy="740.5" r="4.8" fill="#1530ff" stroke="#000" stroke-width="1.6"/>
<circle cx="198.2" cy="747" r="4.8" fill="#1530ff" stroke="#000" stroke-width="1.6"/>
<circle cx="177.7" cy="751.3" r="4.8" fill="#1530ff" stroke="#000" stroke-width="1.6"/>
<circle cx="149.4" cy="747.9" r="4.8" fill="#1530ff" stroke="#000" stroke-width="1.6"/>
<polygon points="204.6,743.1 210.4,752 198.8,752" fill="#ff3cff" stroke="#000" stroke-width="1" stroke-linejoin="miter"/>
<polygon points="196.5,742.3 198.47,747.58 204.11,747.83 199.7,751.34 201.2,756.77 196.5,753.66 191.8,756.77 193.3,751.34 188.89,747.83 194.53,747.58" fill="#ff9000" stroke="#000" stroke-width="1" stroke-linejoin="miter"/>
<line x1="215.7" y1="735.4" x2="215.7" y2="725.9" stroke="#1a2dff" stroke-width="1.6"/>
<line x1="198.2" y1="741.3" x2="198.2" y2="732.4" stroke="#1a2dff" stroke-width="1.6"/>
<line x1="177.7" y1="745.1" x2="177.7" y2="737" stroke="#1a2dff" stroke-width="1.6"/>
<line x1="149.4" y1="753.3" x2="149.4" y2="759.3" stroke="#1a2dff" stroke-width="1.6"/>
<line x1="211.1" y1="751.6" x2="218.3" y2="757.6" stroke="#ff33ff" stroke-width="1.6"/>
<line x1="190.2" y1="755.4" x2="179.9" y2="761.9" stroke="#ff8c1a" stroke-width="1.6"/>
<text x="215.28" y="722" font-family="Liberation Sans" font-size="15.3" fill="#1a2dff" text-anchor="middle">1</text>
<text x="198.01" y="729.4" font-family="Liberation Sans" font-size="15.3" fill="#1a2dff" text-anchor="middle">2</text>
<text x="177.51" y="733.5" font-family="Liberation Sans" font-size="15.3" fill="#1a2dff" text-anchor="middle">3</text>
<text x="149.09" y="773.4" font-family="Liberation Sans" font-size="15.3" fill="#1a2dff" text-anchor="middle">4</text>
<text x="232.47" y="763.2" font-family="Liberation Sans" font-size="15.3" fill="#ff33ff" text-anchor="middle" letter-spacing="0.4">14</text>
<text x="179.24" y="775.7" font-family="Liberation Sans" font-size="15.3" fill="#ff8c1a" text-anchor="middle" letter-spacing="0.4">28</text>
<line x1="340.6" y1="783.6" x2="365.2" y2="800.53" stroke="#000" stroke-width="1.5"/>
<polygon points="368.5,802.8 365.2,795.43 364.38,799.97 360.43,802.35" fill="#000" stroke="#000" stroke-width="0.3"/>
<line x1="783.2" y1="1045.5" x2="783.2" y2="1053.1" stroke="#000" stroke-width="1.5"/>
<line x1="783.2" y1="626" x2="783.2" y2="633.6" stroke="#000" stroke-width="1.5"/>
<line x1="873.9" y1="1045.5" x2="873.9" y2="1053.1" stroke="#000" stroke-width="1.5"/>
<line x1="873.9" y1="626" x2="873.9" y2="633.6" stroke="#000" stroke-width="1.5"/>
<line x1="964.6" y1="1045.5" x2="964.6" y2="1053.1" stroke="#000" stroke-width="1.5"/>
<line x1="964.6" y1="626" x2="964.6" y2="633.6" stroke="#000" stroke-width="1.5"/>
<line x1="1055.3" y1="1045.5" x2="1055.3" y2="1053.1" stroke="#000" stroke-width="1.5"/>
<line x1="1055.3" y1="626" x2="1055.3" y2="633.6" stroke="#000" stroke-width="1.5"/>
<line x1="1146" y1="1045.5" x2="1146" y2="1053.1" stroke="#000" stroke-width="1.5"/>
<line x1="1146" y1="626" x2="1146" y2="633.6" stroke="#000" stroke-width="1.5"/>
<line x1="1236.7" y1="1045.5" x2="1236.7" y2="1053.1" stroke="#000" stroke-width="1.5"/>
<line x1="1236.7" y1="626" x2="1236.7" y2="633.6" stroke="#000" stroke-width="1.5"/>
<line x1="1327.4" y1="1045.5" x2="1327.4" y2="1053.1" stroke="#000" stroke-width="1.5"/>
<line x1="1327.4" y1="626" x2="1327.4" y2="633.6" stroke="#000" stroke-width="1.5"/>
<line x1="792.27" y1="1045.5" x2="792.27" y2="1049.3" stroke="#000" stroke-width="1.5"/>
<line x1="792.27" y1="626" x2="792.27" y2="629.8" stroke="#000" stroke-width="1.5"/>
<line x1="801.34" y1="1045.5" x2="801.34" y2="1049.3" stroke="#000" stroke-width="1.5"/>
<line x1="801.34" y1="626" x2="801.34" y2="629.8" stroke="#000" stroke-width="1.5"/>
<line x1="810.41" y1="1045.5" x2="810.41" y2="1049.3" stroke="#000" stroke-width="1.5"/>
<line x1="810.41" y1="626" x2="810.41" y2="629.8" stroke="#000" stroke-width="1.5"/>
<line x1="819.48" y1="1045.5" x2="819.48" y2="1049.3" stroke="#000" stroke-width="1.5"/>
<line x1="819.48" y1="626" x2="819.48" y2="629.8" stroke="#000" stroke-width="1.5"/>
<line x1="828.55" y1="1045.5" x2="828.55" y2="1049.3" stroke="#000" stroke-width="1.5"/>
<line x1="828.55" y1="626" x2="828.55" y2="629.8" stroke="#000" stroke-width="1.5"/>
<line x1="837.62" y1="1045.5" x2="837.62" y2="1049.3" stroke="#000" stroke-width="1.5"/>
<line x1="837.62" y1="626" x2="837.62" y2="629.8" stroke="#000" stroke-width="1.5"/>
<line x1="846.69" y1="1045.5" x2="846.69" y2="1049.3" stroke="#000" stroke-width="1.5"/>
<line x1="846.69" y1="626" x2="846.69" y2="629.8" stroke="#000" stroke-width="1.5"/>
<line x1="855.76" y1="1045.5" x2="855.76" y2="1049.3" stroke="#000" stroke-width="1.5"/>
<line x1="855.76" y1="626" x2="855.76" y2="629.8" stroke="#000" stroke-width="1.5"/>
<line x1="864.83" y1="1045.5" x2="864.83" y2="1049.3" stroke="#000" stroke-width="1.5"/>
<line x1="864.83" y1="626" x2="864.83" y2="629.8" stroke="#000" stroke-width="1.5"/>
<line x1="882.97" y1="1045.5" x2="882.97" y2="1049.3" stroke="#000" stroke-width="1.5"/>
<line x1="882.97" y1="626" x2="882.97" y2="629.8" stroke="#000" stroke-width="1.5"/>
<line x1="892.04" y1="1045.5" x2="892.04" y2="1049.3" stroke="#000" stroke-width="1.5"/>
<line x1="892.04" y1="626" x2="892.04" y2="629.8" stroke="#000" stroke-width="1.5"/>
<line x1="901.11" y1="1045.5" x2="901.11" y2="1049.3" stroke="#000" stroke-width="1.5"/>
<line x1="901.11" y1="626" x2="901.11" y2="629.8" stroke="#000" stroke-width="1.5"/>
<line x1="910.18" y1="1045.5" x2="910.18" y2="1049.3" stroke="#000" stroke-width="1.5"/>
<line x1="910.18" y1="626" x2="910.18" y2="629.8" stroke="#000" stroke-width="1.5"/>
<line x1="919.25" y1="1045.5" x2="919.25" y2="1049.3" stroke="#000" stroke-width="1.5"/>
<line x1="919.25" y1="626" x2="919.25" y2="629.8" stroke="#000" stroke-width="1.5"/>
<line x1="928.32" y1="1045.5" x2="928.32" y2="1049.3" stroke="#000" stroke-width="1.5"/>
<line x1="928.32" y1="626" x2="928.32" y2="629.8" stroke="#000" stroke-width="1.5"/>
<line x1="937.39" y1="1045.5" x2="937.39" y2="1049.3" stroke="#000" stroke-width="1.5"/>
<line x1="937.39" y1="626" x2="937.39" y2="629.8" stroke="#000" stroke-width="1.5"/>
<line x1="946.46" y1="1045.5" x2="946.46" y2="1049.3" stroke="#000" stroke-width="1.5"/>
<line x1="946.46" y1="626" x2="946.46" y2="629.8" stroke="#000" stroke-width="1.5"/>
<line x1="955.53" y1="1045.5" x2="955.53" y2="1049.3" stroke="#000" stroke-width="1.5"/>
<line x1="955.53" y1="626" x2="955.53" y2="629.8" stroke="#000" stroke-width="1.5"/>
<line x1="973.67" y1="1045.5" x2="973.67" y2="1049.3" stroke="#000" stroke-width="1.5"/>
<line x1="973.67" y1="626" x2="973.67" y2="629.8" stroke="#000" stroke-width="1.5"/>
<line x1="982.74" y1="1045.5" x2="982.74" y2="1049.3" stroke="#000" stroke-width="1.5"/>
<line x1="982.74" y1="626" x2="982.74" y2="629.8" stroke="#000" stroke-width="1.5"/>
<line x1="991.81" y1="1045.5" x2="991.81" y2="1049.3" stroke="#000" stroke-width="1.5"/>
<line x1="991.81" y1="626" x2="991.81" y2="629.8" stroke="#000" stroke-width="1.5"/>
<line x1="1000.88" y1="1045.5" x2="1000.88" y2="1049.3" stroke="#000" stroke-width="1.5"/>
<line x1="1000.88" y1="626" x2="1000.88" y2="629.8" stroke="#000" stroke-width="1.5"/>
<line x1="1009.95" y1="1045.5" x2="1009.95" y2="1049.3" stroke="#000" stroke-width="1.5"/>
<line x1="1009.95" y1="626" x2="1009.95" y2="629.8" stroke="#000" stroke-width="1.5"/>
<line x1="1019.02" y1="1045.5" x2="1019.02" y2="1049.3" stroke="#000" stroke-width="1.5"/>
<line x1="1019.02" y1="626" x2="1019.02" y2="629.8" stroke="#000" stroke-width="1.5"/>
<line x1="1028.09" y1="1045.5" x2="1028.09" y2="1049.3" stroke="#000" stroke-width="1.5"/>
<line x1="1028.09" y1="626" x2="1028.09" y2="629.8" stroke="#000" stroke-width="1.5"/>
<line x1="1037.16" y1="1045.5" x2="1037.16" y2="1049.3" stroke="#000" stroke-width="1.5"/>
<line x1="1037.16" y1="626" x2="1037.16" y2="629.8" stroke="#000" stroke-width="1.5"/>
<line x1="1046.23" y1="1045.5" x2="1046.23" y2="1049.3" stroke="#000" stroke-width="1.5"/>
<line x1="1046.23" y1="626" x2="1046.23" y2="629.8" stroke="#000" stroke-width="1.5"/>
<line x1="1064.37" y1="1045.5" x2="1064.37" y2="1049.3" stroke="#000" stroke-width="1.5"/>
<line x1="1064.37" y1="626" x2="1064.37" y2="629.8" stroke="#000" stroke-width="1.5"/>
<line x1="1073.44" y1="1045.5" x2="1073.44" y2="1049.3" stroke="#000" stroke-width="1.5"/>
<line x1="1073.44" y1="626" x2="1073.44" y2="629.8" stroke="#000" stroke-width="1.5"/>
<line x1="1082.51" y1="1045.5" x2="1082.51" y2="1049.3" stroke="#000" stroke-width="1.5"/>
<line x1="1082.51" y1="626" x2="1082.51" y2="629.8" stroke="#000" stroke-width="1.5"/>
<line x1="1091.58" y1="1045.5" x2="1091.58" y2="1049.3" stroke="#000" stroke-width="1.5"/>
<line x1="1091.58" y1="626" x2="1091.58" y2="629.8" stroke="#000" stroke-width="1.5"/>
<line x1="1100.65" y1="1045.5" x2="1100.65" y2="1049.3" stroke="#000" stroke-width="1.5"/>
<line x1="1100.65" y1="626" x2="1100.65" y2="629.8" stroke="#000" stroke-width="1.5"/>
<line x1="1109.72" y1="1045.5" x2="1109.72" y2="1049.3" stroke="#000" stroke-width="1.5"/>
<line x1="1109.72" y1="626" x2="1109.72" y2="629.8" stroke="#000" stroke-width="1.5"/>
<line x1="1118.79" y1="1045.5" x2="1118.79" y2="1049.3" stroke="#000" stroke-width="1.5"/>
<line x1="1118.79" y1="626" x2="1118.79" y2="629.8" stroke="#000" stroke-width="1.5"/>
<line x1="1127.86" y1="1045.5" x2="1127.86" y2="1049.3" stroke="#000" stroke-width="1.5"/>
<line x1="1127.86" y1="626" x2="1127.86" y2="629.8" stroke="#000" stroke-width="1.5"/>
<line x1="1136.93" y1="1045.5" x2="1136.93" y2="1049.3" stroke="#000" stroke-width="1.5"/>
<line x1="1136.93" y1="626" x2="1136.93" y2="629.8" stroke="#000" stroke-width="1.5"/>
<line x1="1155.07" y1="1045.5" x2="1155.07" y2="1049.3" stroke="#000" stroke-width="1.5"/>
<line x1="1155.07" y1="626" x2="1155.07" y2="629.8" stroke="#000" stroke-width="1.5"/>
<line x1="1164.14" y1="1045.5" x2="1164.14" y2="1049.3" stroke="#000" stroke-width="1.5"/>
<line x1="1164.14" y1="626" x2="1164.14" y2="629.8" stroke="#000" stroke-width="1.5"/>
<line x1="1173.21" y1="1045.5" x2="1173.21" y2="1049.3" stroke="#000" stroke-width="1.5"/>
<line x1="1173.21" y1="626" x2="1173.21" y2="629.8" stroke="#000" stroke-width="1.5"/>
<line x1="1182.28" y1="1045.5" x2="1182.28" y2="1049.3" stroke="#000" stroke-width="1.5"/>
<line x1="1182.28" y1="626" x2="1182.28" y2="629.8" stroke="#000" stroke-width="1.5"/>
<line x1="1191.35" y1="1045.5" x2="1191.35" y2="1049.3" stroke="#000" stroke-width="1.5"/>
<line x1="1191.35" y1="626" x2="1191.35" y2="629.8" stroke="#000" stroke-width="1.5"/>
<line x1="1200.42" y1="1045.5" x2="1200.42" y2="1049.3" stroke="#000" stroke-width="1.5"/>
<line x1="1200.42" y1="626" x2="1200.42" y2="629.8" stroke="#000" stroke-width="1.5"/>
<line x1="1209.49" y1="1045.5" x2="1209.49" y2="1049.3" stroke="#000" stroke-width="1.5"/>
<line x1="1209.49" y1="626" x2="1209.49" y2="629.8" stroke="#000" stroke-width="1.5"/>
<line x1="1218.56" y1="1045.5" x2="1218.56" y2="1049.3" stroke="#000" stroke-width="1.5"/>
<line x1="1218.56" y1="626" x2="1218.56" y2="629.8" stroke="#000" stroke-width="1.5"/>
<line x1="1227.63" y1="1045.5" x2="1227.63" y2="1049.3" stroke="#000" stroke-width="1.5"/>
<line x1="1227.63" y1="626" x2="1227.63" y2="629.8" stroke="#000" stroke-width="1.5"/>
<line x1="1245.77" y1="1045.5" x2="1245.77" y2="1049.3" stroke="#000" stroke-width="1.5"/>
<line x1="1245.77" y1="626" x2="1245.77" y2="629.8" stroke="#000" stroke-width="1.5"/>
<line x1="1254.84" y1="1045.5" x2="1254.84" y2="1049.3" stroke="#000" stroke-width="1.5"/>
<line x1="1254.84" y1="626" x2="1254.84" y2="629.8" stroke="#000" stroke-width="1.5"/>
<line x1="1263.91" y1="1045.5" x2="1263.91" y2="1049.3" stroke="#000" stroke-width="1.5"/>
<line x1="1263.91" y1="626" x2="1263.91" y2="629.8" stroke="#000" stroke-width="1.5"/>
<line x1="1272.98" y1="1045.5" x2="1272.98" y2="1049.3" stroke="#000" stroke-width="1.5"/>
<line x1="1272.98" y1="626" x2="1272.98" y2="629.8" stroke="#000" stroke-width="1.5"/>
<line x1="1282.05" y1="1045.5" x2="1282.05" y2="1049.3" stroke="#000" stroke-width="1.5"/>
<line x1="1282.05" y1="626" x2="1282.05" y2="629.8" stroke="#000" stroke-width="1.5"/>
<line x1="1291.12" y1="1045.5" x2="1291.12" y2="1049.3" stroke="#000" stroke-width="1.5"/>
<line x1="1291.12" y1="626" x2="1291.12" y2="629.8" stroke="#000" stroke-width="1.5"/>
<line x1="1300.19" y1="1045.5" x2="1300.19" y2="1049.3" stroke="#000" stroke-width="1.5"/>
<line x1="1300.19" y1="626" x2="1300.19" y2="629.8" stroke="#000" stroke-width="1.5"/>
<line x1="1309.26" y1="1045.5" x2="1309.26" y2="1049.3" stroke="#000" stroke-width="1.5"/>
<line x1="1309.26" y1="626" x2="1309.26" y2="629.8" stroke="#000" stroke-width="1.5"/>
<line x1="1318.33" y1="1045.5" x2="1318.33" y2="1049.3" stroke="#000" stroke-width="1.5"/>
<line x1="1318.33" y1="626" x2="1318.33" y2="629.8" stroke="#000" stroke-width="1.5"/>
<line x1="1336.47" y1="1045.5" x2="1336.47" y2="1049.3" stroke="#000" stroke-width="1.5"/>
<line x1="1336.47" y1="626" x2="1336.47" y2="629.8" stroke="#000" stroke-width="1.5"/>
<line x1="1345.54" y1="1045.5" x2="1345.54" y2="1049.3" stroke="#000" stroke-width="1.5"/>
<line x1="1345.54" y1="626" x2="1345.54" y2="629.8" stroke="#000" stroke-width="1.5"/>
<line x1="1354.61" y1="1045.5" x2="1354.61" y2="1049.3" stroke="#000" stroke-width="1.5"/>
<line x1="1354.61" y1="626" x2="1354.61" y2="629.8" stroke="#000" stroke-width="1.5"/>
<line x1="1363.68" y1="1045.5" x2="1363.68" y2="1049.3" stroke="#000" stroke-width="1.5"/>
<line x1="1363.68" y1="626" x2="1363.68" y2="629.8" stroke="#000" stroke-width="1.5"/>
<line x1="1372.75" y1="1045.5" x2="1372.75" y2="1049.3" stroke="#000" stroke-width="1.5"/>
<line x1="1372.75" y1="626" x2="1372.75" y2="629.8" stroke="#000" stroke-width="1.5"/>
<line x1="1381.82" y1="1045.5" x2="1381.82" y2="1049.3" stroke="#000" stroke-width="1.5"/>
<line x1="1381.82" y1="626" x2="1381.82" y2="629.8" stroke="#000" stroke-width="1.5"/>
<line x1="775.9" y1="1030.25" x2="783.5" y2="1030.25" stroke="#000" stroke-width="1.5"/>
<line x1="1374.9" y1="1030.25" x2="1382.5" y2="1030.25" stroke="#000" stroke-width="1.5"/>
<line x1="775.9" y1="973.3" x2="783.5" y2="973.3" stroke="#000" stroke-width="1.5"/>
<line x1="1374.9" y1="973.3" x2="1382.5" y2="973.3" stroke="#000" stroke-width="1.5"/>
<line x1="775.9" y1="916.35" x2="783.5" y2="916.35" stroke="#000" stroke-width="1.5"/>
<line x1="1374.9" y1="916.35" x2="1382.5" y2="916.35" stroke="#000" stroke-width="1.5"/>
<line x1="775.9" y1="859.4" x2="783.5" y2="859.4" stroke="#000" stroke-width="1.5"/>
<line x1="1374.9" y1="859.4" x2="1382.5" y2="859.4" stroke="#000" stroke-width="1.5"/>
<line x1="775.9" y1="802.45" x2="783.5" y2="802.45" stroke="#000" stroke-width="1.5"/>
<line x1="1374.9" y1="802.45" x2="1382.5" y2="802.45" stroke="#000" stroke-width="1.5"/>
<line x1="775.9" y1="745.5" x2="783.5" y2="745.5" stroke="#000" stroke-width="1.5"/>
<line x1="1374.9" y1="745.5" x2="1382.5" y2="745.5" stroke="#000" stroke-width="1.5"/>
<line x1="775.9" y1="688.55" x2="783.5" y2="688.55" stroke="#000" stroke-width="1.5"/>
<line x1="1374.9" y1="688.55" x2="1382.5" y2="688.55" stroke="#000" stroke-width="1.5"/>
<line x1="775.9" y1="631.6" x2="783.5" y2="631.6" stroke="#000" stroke-width="1.5"/>
<line x1="1374.9" y1="631.6" x2="1382.5" y2="631.6" stroke="#000" stroke-width="1.5"/>
<line x1="779.7" y1="1001.78" x2="783.5" y2="1001.78" stroke="#000" stroke-width="1.5"/>
<line x1="1378.7" y1="1001.78" x2="1382.5" y2="1001.78" stroke="#000" stroke-width="1.5"/>
<line x1="779.7" y1="944.83" x2="783.5" y2="944.83" stroke="#000" stroke-width="1.5"/>
<line x1="1378.7" y1="944.83" x2="1382.5" y2="944.83" stroke="#000" stroke-width="1.5"/>
<line x1="779.7" y1="887.88" x2="783.5" y2="887.88" stroke="#000" stroke-width="1.5"/>
<line x1="1378.7" y1="887.88" x2="1382.5" y2="887.88" stroke="#000" stroke-width="1.5"/>
<line x1="779.7" y1="830.93" x2="783.5" y2="830.93" stroke="#000" stroke-width="1.5"/>
<line x1="1378.7" y1="830.93" x2="1382.5" y2="830.93" stroke="#000" stroke-width="1.5"/>
<line x1="779.7" y1="773.98" x2="783.5" y2="773.98" stroke="#000" stroke-width="1.5"/>
<line x1="1378.7" y1="773.98" x2="1382.5" y2="773.98" stroke="#000" stroke-width="1.5"/>
<line x1="779.7" y1="717.03" x2="783.5" y2="717.03" stroke="#000" stroke-width="1.5"/>
<line x1="1378.7" y1="717.03" x2="1382.5" y2="717.03" stroke="#000" stroke-width="1.5"/>
<line x1="779.7" y1="660.08" x2="783.5" y2="660.08" stroke="#000" stroke-width="1.5"/>
<line x1="1378.7" y1="660.08" x2="1382.5" y2="660.08" stroke="#000" stroke-width="1.5"/>
<rect x="783.5" y="626" width="599" height="419.5" fill="none" stroke="#000" stroke-width="1.5"/>
<text x="772.1" y="1035.65" font-family="Liberation Sans" font-size="17.3" fill="#000" text-anchor="end">0.2</text>
<text x="772.1" y="978.7" font-family="Liberation Sans" font-size="17.3" fill="#000" text-anchor="end">0.4</text>
<text x="772.1" y="921.75" font-family="Liberation Sans" font-size="17.3" fill="#000" text-anchor="end">0.6</text>
<text x="772.1" y="864.8" font-family="Liberation Sans" font-size="17.3" fill="#000" text-anchor="end">0.8</text>
<text x="772.1" y="807.85" font-family="Liberation Sans" font-size="17.3" fill="#000" text-anchor="end">1.0</text>
<text x="772.1" y="750.9" font-family="Liberation Sans" font-size="17.3" fill="#000" text-anchor="end">1.2</text>
<text x="772.1" y="693.95" font-family="Liberation Sans" font-size="17.3" fill="#000" text-anchor="end">1.4</text>
<text x="772.1" y="637" font-family="Liberation Sans" font-size="17.3" fill="#000" text-anchor="end">1.6</text>
<text x="782.9" y="1068.2" font-family="Liberation Sans" font-size="17.3" fill="#000" text-anchor="middle">1.3</text>
<text x="873.51" y="1068.2" font-family="Liberation Sans" font-size="17.3" fill="#000" text-anchor="middle">1.4</text>
<text x="964.3" y="1068.2" font-family="Liberation Sans" font-size="17.3" fill="#000" text-anchor="middle">1.5</text>
<text x="1055" y="1068.2" font-family="Liberation Sans" font-size="17.3" fill="#000" text-anchor="middle">1.6</text>
<text x="1145.79" y="1068.2" font-family="Liberation Sans" font-size="17.3" fill="#000" text-anchor="middle">1.7</text>
<text x="1236.4" y="1068.2" font-family="Liberation Sans" font-size="17.3" fill="#000" text-anchor="middle">1.8</text>
<text x="1327.14" y="1068.2" font-family="Liberation Sans" font-size="17.3" fill="#000" text-anchor="middle">1.9</text>
<text transform="translate(733.6,835.7) rotate(-90)" x="0" y="0" font-family="Liberation Sans" font-size="17.8" text-anchor="middle">C-C Bond Strength Order n</text>
<text x="1082.3" y="1095.3" font-family="Liberation Sans" font-size="17.8" fill="#000" text-anchor="middle">Bond Length R(C-C) [Å]</text>
<text x="1058.9" y="1142.6" font-family="Liberation Serif" font-size="25.5" text-anchor="middle">(<tspan font-weight="bold" font-size="23.71">c</tspan>)</text>
<clipPath id="cc"><rect x="783.5" y="626" width="599" height="419.5"/></clipPath>
<path d="M851.23,616.87 L852.92,620.5 L854.61,624.11 L856.31,627.68 L858,631.22 L859.69,634.73 L861.39,638.21 L863.08,641.66 L864.77,645.07 L866.47,648.46 L868.16,651.81 L869.85,655.13 L871.55,658.43 L873.24,661.69 L874.93,664.93 L876.63,668.13 L878.32,671.31 L880.01,674.46 L881.71,677.58 L883.4,680.68 L885.09,683.74 L886.79,686.78 L888.48,689.79 L890.17,692.78 L891.87,695.74 L893.56,698.67 L895.25,701.58 L896.95,704.46 L898.64,707.32 L900.33,710.15 L902.03,712.96 L903.72,715.74 L905.41,718.5 L907.11,721.23 L908.8,723.94 L910.49,726.63 L912.19,729.3 L913.88,731.94 L915.57,734.55 L917.27,737.15 L918.96,739.72 L920.65,742.27 L922.35,744.8 L924.04,747.31 L925.73,749.79 L927.43,752.26 L929.12,754.7 L930.81,757.12 L932.51,759.52 L934.2,761.9 L935.89,764.26 L937.59,766.6 L939.28,768.92 L940.97,771.23 L942.67,773.51 L944.36,775.77 L946.05,778.01 L947.75,780.23 L949.44,782.44 L951.13,784.63 L952.83,786.79 L954.52,788.94 L956.21,791.08 L957.91,793.19 L959.6,795.29 L961.29,797.36 L962.99,799.43 L964.68,801.47 L966.37,803.5 L968.07,805.51 L969.76,807.5 L971.45,809.48 L973.15,811.44 L974.84,813.38 L976.53,815.31 L978.23,817.22 L979.92,819.12 L981.61,821 L983.31,822.87 L985,824.72 L986.69,826.55 L988.39,828.37 L990.08,830.18 L991.77,831.97 L993.47,833.74 L995.16,835.5 L996.85,837.25 L998.55,838.98 L1000.24,840.7 L1001.93,842.4 L1003.63,844.1 L1005.32,845.77 L1007.01,847.44 L1008.71,849.09 L1010.4,850.72 L1012.1,852.35 L1013.79,853.96 L1015.48,855.55 L1017.18,857.14 L1018.87,858.71 L1020.56,860.27 L1022.26,861.81 L1023.95,863.35 L1025.64,864.87 L1027.34,866.38 L1029.03,867.88 L1030.72,869.37 L1032.42,870.84 L1034.11,872.3 L1035.8,873.75 L1037.5,875.19 L1039.19,876.62 L1040.88,878.04 L1042.58,879.44 L1044.27,880.84 L1045.96,882.22 L1047.66,883.59 L1049.35,884.95 L1051.04,886.31 L1052.74,887.65 L1054.43,888.98 L1056.12,890.3 L1057.82,891.6 L1059.51,892.9 L1061.2,894.19 L1062.9,895.47 L1064.59,896.74 L1066.28,898 L1067.98,899.25 L1069.67,900.49 L1071.36,901.72 L1073.06,902.94 L1074.75,904.15 L1076.44,905.35 L1078.14,906.54 L1079.83,907.73 L1081.52,908.9 L1083.22,910.07 L1084.91,911.22 L1086.6,912.37 L1088.3,913.51 L1089.99,914.64 L1091.68,915.76 L1093.38,916.87 L1095.07,917.98 L1096.76,919.07 L1098.46,920.16 L1100.15,921.24 L1101.84,922.31 L1103.54,923.38 L1105.23,924.43 L1106.92,925.48 L1108.62,926.52 L1110.31,927.55 L1112,928.57 L1113.7,929.59 L1115.39,930.6 L1117.08,931.6 L1118.78,932.59 L1120.47,933.58 L1122.16,934.55 L1123.86,935.52 L1125.55,936.49 L1127.24,937.45 L1128.94,938.39 L1130.63,939.34 L1132.32,940.27 L1134.02,941.2 L1135.71,942.12 L1137.4,943.04 L1139.1,943.95 L1140.79,944.85 L1142.48,945.74 L1144.18,946.63 L1145.87,947.51 L1147.56,948.39 L1149.26,949.25 L1150.95,950.12 L1152.64,950.97 L1154.34,951.82 L1156.03,952.66 L1157.72,953.5 L1159.42,954.33 L1161.11,955.16 L1162.8,955.98 L1164.5,956.79 L1166.19,957.6 L1167.89,958.4 L1169.58,959.19 L1171.27,959.98 L1172.97,960.77 L1174.66,961.55 L1176.35,962.32 L1178.05,963.09 L1179.74,963.85 L1181.43,964.6 L1183.13,965.35 L1184.82,966.1 L1186.51,966.84 L1188.21,967.57 L1189.9,968.3 L1191.59,969.03 L1193.29,969.75 L1194.98,970.46 L1196.67,971.17 L1198.37,971.87 L1200.06,972.57 L1201.75,973.27 L1203.45,973.95 L1205.14,974.64 L1206.83,975.32 L1208.53,975.99 L1210.22,976.66 L1211.91,977.33 L1213.61,977.99 L1215.3,978.64 L1216.99,979.29 L1218.69,979.94 L1220.38,980.58 L1222.07,981.22 L1223.77,981.85 L1225.46,982.48 L1227.15,983.1 L1228.85,983.72 L1230.54,984.34 L1232.23,984.95 L1233.93,985.55 L1235.62,986.16 L1237.31,986.75 L1239.01,987.35 L1240.7,987.94 L1242.39,988.52 L1244.09,989.11 L1245.78,989.68 L1247.47,990.26 L1249.17,990.83 L1250.86,991.39 L1252.55,991.96 L1254.25,992.51 L1255.94,993.07 L1257.63,993.62 L1259.33,994.16 L1261.02,994.71 L1262.71,995.25 L1264.41,995.78 L1266.1,996.31 L1267.79,996.84 L1269.49,997.37 L1271.18,997.89 L1272.87,998.41 L1274.57,998.92 L1276.26,999.43 L1277.95,999.94 L1279.65,1000.44 L1281.34,1000.94 L1283.03,1001.44 L1284.73,1001.93 L1286.42,1002.42 L1288.11,1002.91 L1289.81,1003.39 L1291.5,1003.87 L1293.19,1004.35 L1294.89,1004.82 L1296.58,1005.29 L1298.27,1005.76 L1299.97,1006.23 L1301.66,1006.69 L1303.35,1007.15 L1305.05,1007.6 L1306.74,1008.05 L1308.43,1008.5 L1310.13,1008.95 L1311.82,1009.39 L1313.51,1009.83 L1315.21,1010.27 L1316.9,1010.7 L1318.59,1011.13 L1320.29,1011.56 L1321.98,1011.99 L1323.67,1012.41 L1325.37,1012.83 L1327.06,1013.25 L1328.76,1013.66 L1330.45,1014.08 L1332.14,1014.48 L1333.84,1014.89 L1335.53,1015.3 L1337.22,1015.7 L1338.92,1016.09 L1340.61,1016.49 L1342.3,1016.88 L1344,1017.28 L1345.69,1017.66 L1347.38,1018.05 L1349.08,1018.43 L1350.77,1018.81 L1352.46,1019.19 L1354.16,1019.57 L1355.85,1019.94 L1357.54,1020.31 L1359.24,1020.68" fill="none" stroke="#000" stroke-width="1.6" clip-path="url(#cc)"/>
<rect x="796.6" y="899.5" width="163" height="133.6" fill="none" stroke="#a8a8a8" stroke-width="1"/>
<circle cx="814.5" cy="913" r="5" fill="#1530ff" stroke="#000" stroke-width="1.6"/>
<polygon points="814.5,929.3 820.8,939.9 808.2,939.9" fill="#ff3cff" stroke="#000" stroke-width="1" stroke-linejoin="miter"/>
<polygon points="814.5,949.6 820.7,955.8 814.5,962 808.3,955.8" fill="#12eef6" stroke="#000" stroke-width="1" stroke-linejoin="miter"/>
<polygon points="809.9,972.6 819.1,972.6 819.1,981.8 809.9,981.8" fill="#00ee1a" stroke="#000" stroke-width="1" stroke-linejoin="miter"/>
<polygon points="814.5,990.1 816.62,995.78 822.68,996.04 817.94,999.82 819.55,1005.66 814.5,1002.31 809.45,1005.66 811.06,999.82 806.32,996.04 812.38,995.78" fill="#ff9000" stroke="#000" stroke-width="1" stroke-linejoin="miter"/>
<polygon points="808.15,1016.3 820.85,1016.3 814.5,1027.3" fill="#ff0a14" stroke="#000" stroke-width="1" stroke-linejoin="miter"/>
<text x="832.33" y="917.8" font-family="Liberation Sans" font-size="17.4" fill="#000" text-anchor="start">Group I</text>
<text x="832.33" y="939.2" font-family="Liberation Sans" font-size="17.4" fill="#000" text-anchor="start">Group II</text>
<text x="832.33" y="960.7" font-family="Liberation Sans" font-size="17.4" fill="#000" text-anchor="start">Group III</text>
<text x="832.33" y="982" font-family="Liberation Sans" font-size="17.4" fill="#000" text-anchor="start">Group IV</text>
<text x="832.33" y="1003.3" font-family="Liberation Sans" font-size="17.4" fill="#000" text-anchor="start">Group V</text>
<text x="832.33" y="1024.9" font-family="Liberation Sans" font-size="17.4" fill="#000" text-anchor="start">Groups VI &amp; VII</text>
<text x="1263.21" y="715.8" font-family="Liberation Sans" font-size="17.4" fill="#000" text-anchor="start">R</text>
<text x="1276.08" y="708.8" font-family="Liberation Sans" font-size="12.5" fill="#000" text-anchor="start">2</text>
<text x="1288.33" y="715.8" font-family="Liberation Sans" font-size="17.4" fill="#000" text-anchor="start" letter-spacing="0.19">= 0.898</text>
<rect x="891.2" y="709.6" width="41.4" height="61.7" fill="none" stroke="#a8a8a8" stroke-width="1"/>
<rect x="972.3" y="795.4" width="21.3" height="23" fill="none" stroke="#a8a8a8" stroke-width="1"/>
<polygon points="842.15,635.7 854.85,635.7 848.5,646.3" fill="#ff0a14" stroke="#000" stroke-width="1" stroke-linejoin="miter"/>
<polygon points="844.95,638.5 857.65,638.5 851.3,649.1" fill="#ff0a14" stroke="#000" stroke-width="1" stroke-linejoin="miter"/>
<polygon points="890.35,716.6 903.05,716.6 896.7,727.2" fill="#ff0a14" stroke="#000" stroke-width="1" stroke-linejoin="miter"/>
<polygon points="894.85,717.8 907.55,717.8 901.2,728.4" fill="#ff0a14" stroke="#000" stroke-width="1" stroke-linejoin="miter"/>
<polygon points="894.85,726.4 907.55,726.4 901.2,737" fill="#ff0a14" stroke="#000" stroke-width="1" stroke-linejoin="miter"/>
<polygon points="897.55,726.9 910.25,726.9 903.9,737.5" fill="#ff0a14" stroke="#000" stroke-width="1" stroke-linejoin="miter"/>
<polygon points="917.45,743.7 930.15,743.7 923.8,754.3" fill="#ff0a14" stroke="#000" stroke-width="1" stroke-linejoin="miter"/>
<polygon points="917.45,749.6 930.15,749.6 923.8,760.2" fill="#ff0a14" stroke="#000" stroke-width="1" stroke-linejoin="miter"/>
<polygon points="919.25,750.5 931.95,750.5 925.6,761.1" fill="#ff0a14" stroke="#000" stroke-width="1" stroke-linejoin="miter"/>
<polygon points="932.35,762 945.05,762 938.7,772.6" fill="#ff0a14" stroke="#000" stroke-width="1" stroke-linejoin="miter"/>
<polygon points="942.15,765.4 954.85,765.4 948.5,776" fill="#ff0a14" stroke="#000" stroke-width="1" stroke-linejoin="miter"/>
<polygon points="946.45,770.8 959.15,770.8 952.8,781.4" fill="#ff0a14" stroke="#000" stroke-width="1" stroke-linejoin="miter"/>
<polygon points="954.15,780.3 966.85,780.3 960.5,790.9" fill="#ff0a14" stroke="#000" stroke-width="1" stroke-linejoin="miter"/>
<polygon points="962.95,783 975.65,783 969.3,793.6" fill="#ff0a14" stroke="#000" stroke-width="1" stroke-linejoin="miter"/>
<polygon points="954.35,785.2 967.05,785.2 960.7,795.8" fill="#ff0a14" stroke="#000" stroke-width="1" stroke-linejoin="miter"/>
<polygon points="964.25,787 976.95,787 970.6,797.6" fill="#ff0a14" stroke="#000" stroke-width="1" stroke-linejoin="miter"/>
<polygon points="957.85,790.2 970.55,790.2 964.2,800.8" fill="#ff0a14" stroke="#000" stroke-width="1" stroke-linejoin="miter"/>
<circle cx="985.4" cy="802.5" r="5.2" fill="#1530ff" stroke="#000" stroke-width="1.6"/>
<circle cx="986.3" cy="805.6" r="5.2" fill="#1530ff" stroke="#000" stroke-width="1.6"/>
<circle cx="988.1" cy="809.3" r="5.2" fill="#1530ff" stroke="#000" stroke-width="1.6"/>
<circle cx="991.9" cy="814.3" r="5.2" fill="#1530ff" stroke="#000" stroke-width="1.6"/>
<polygon points="985.6,799.6 991.1,809.2 980.1,809.2" fill="#ff3cff" stroke="#000" stroke-width="1" stroke-linejoin="miter"/>
<polygon points="975.3,797.9 977.42,803.58 983.48,803.84 978.74,807.62 980.35,813.46 975.3,810.11 970.25,813.46 971.86,807.62 967.12,803.84 973.18,803.58" fill="#ff9000" stroke="#000" stroke-width="1" stroke-linejoin="miter"/>
<polygon points="971.35,796.4 984.05,796.4 977.7,807" fill="#ff0a14" stroke="#000" stroke-width="1" stroke-linejoin="miter"/>
<polygon points="977.45,801.6 990.15,801.6 983.8,812.2" fill="#ff0a14" stroke="#000" stroke-width="1" stroke-linejoin="miter"/>
<polygon points="985.75,812.6 998.45,812.6 992.1,823.2" fill="#ff0a14" stroke="#000" stroke-width="1" stroke-linejoin="miter"/>
<line x1="832.1" y1="638.5" x2="843" y2="638.5" stroke="#ff1a1a" stroke-width="1.6"/>
<line x1="851.3" y1="647" x2="851.3" y2="662.1" stroke="#ff1a1a" stroke-width="1.6"/>
<line x1="941.6" y1="762.4" x2="951.9" y2="752.2" stroke="#ff1a1a" stroke-width="1.6"/>
<line x1="951.9" y1="765.4" x2="978" y2="742.1" stroke="#ff1a1a" stroke-width="1.6"/>
<line x1="956.4" y1="770.2" x2="1003.6" y2="737.6" stroke="#ff1a1a" stroke-width="1.6"/>
<line x1="963.5" y1="783.1" x2="989" y2="770.7" stroke="#ff1a1a" stroke-width="1.6"/>
<line x1="972.4" y1="784.1" x2="1012.8" y2="774" stroke="#ff1a1a" stroke-width="1.6"/>
<line x1="974" y1="790.3" x2="1001.9" y2="790.3" stroke="#ff1a1a" stroke-width="1.6"/>
<line x1="961" y1="788" x2="945.3" y2="811.6" stroke="#ff1a1a" stroke-width="1.6"/>
<line x1="965.2" y1="795" x2="965.2" y2="828.3" stroke="#ff1a1a" stroke-width="1.6"/>
<text x="816.64" y="643.5" font-family="Liberation Sans" font-size="17" fill="#ff1a1a" text-anchor="middle" letter-spacing="0.5">43</text>
<text x="851.45" y="676.8" font-family="Liberation Sans" font-size="17" fill="#ff1a1a" text-anchor="middle" letter-spacing="0.5">44</text>
<text x="952.33" y="748.8" font-family="Liberation Sans" font-size="17" fill="#ff1a1a" text-anchor="middle" letter-spacing="0.5">50</text>
<text x="978.07" y="738.3" font-family="Liberation Sans" font-size="17" fill="#ff1a1a" text-anchor="middle" letter-spacing="0.5">53</text>
<text x="1003.48" y="733.2" font-family="Liberation Sans" font-size="17" fill="#ff1a1a" text-anchor="middle" letter-spacing="0.5">49</text>
<text x="989.05" y="766.7" font-family="Liberation Sans" font-size="17" fill="#ff1a1a" text-anchor="middle" letter-spacing="0.5">32</text>
<text x="1013.24" y="770.5" font-family="Liberation Sans" font-size="17" fill="#ff1a1a" text-anchor="middle" letter-spacing="0.5">45</text>
<text x="1017.14" y="795.4" font-family="Liberation Sans" font-size="17" fill="#ff1a1a" text-anchor="middle" letter-spacing="0.5">46</text>
<text x="945.07" y="826.1" font-family="Liberation Sans" font-size="17" fill="#ff1a1a" text-anchor="middle" letter-spacing="0.5">35</text>
<text x="965.77" y="843.7" font-family="Liberation Sans" font-size="17" fill="#ff1a1a" text-anchor="middle" letter-spacing="0.5">36</text>
<polygon points="939.2,784.3 944.9,794.3 933.5,794.3" fill="#ff3cff" stroke="#000" stroke-width="1" stroke-linejoin="miter"/>
<polygon points="1045.6,862.2 1051.1,871.4 1040.1,871.4" fill="#ff3cff" stroke="#000" stroke-width="1" stroke-linejoin="miter"/>
<circle cx="1002" cy="825.8" r="5.2" fill="#1530ff" stroke="#000" stroke-width="1.6"/>
<circle cx="1002.7" cy="832.6" r="5.2" fill="#1530ff" stroke="#000" stroke-width="1.6"/>
<circle cx="1034.6" cy="857.7" r="5.2" fill="#1530ff" stroke="#000" stroke-width="1.6"/>
<circle cx="1052.6" cy="877" r="5.2" fill="#1530ff" stroke="#000" stroke-width="1.6"/>
<circle cx="1065.7" cy="889.7" r="5.2" fill="#1530ff" stroke="#000" stroke-width="1.6"/>
<circle cx="1081.7" cy="905.4" r="5.2" fill="#1530ff" stroke="#000" stroke-width="1.6"/>
<circle cx="1083.2" cy="913.7" r="5.2" fill="#1530ff" stroke="#000" stroke-width="1.6"/>
<circle cx="1118.2" cy="938.1" r="5.2" fill="#1530ff" stroke="#000" stroke-width="1.6"/>
<circle cx="1145.3" cy="962.4" r="5.2" fill="#1530ff" stroke="#000" stroke-width="1.6"/>
<polygon points="1055,873.8 1060.5,883 1049.5,883" fill="#ff3cff" stroke="#000" stroke-width="1" stroke-linejoin="miter"/>
<polygon points="1075.1,894.7 1080.6,903.3 1069.6,903.3" fill="#ff3cff" stroke="#000" stroke-width="1" stroke-linejoin="miter"/>
<polygon points="1039.7,866 1041.82,871.68 1047.88,871.94 1043.14,875.72 1044.75,881.56 1039.7,878.21 1034.65,881.56 1036.26,875.72 1031.52,871.94 1037.58,871.68" fill="#ff9000" stroke="#000" stroke-width="1" stroke-linejoin="miter"/>
<polygon points="1068.2,877.3 1074.2,883.3 1068.2,889.3 1062.2,883.3" fill="#12eef6" stroke="#000" stroke-width="1" stroke-linejoin="miter"/>
<polygon points="1100.2,900.2 1106.2,906.2 1100.2,912.2 1094.2,906.2" fill="#12eef6" stroke="#000" stroke-width="1" stroke-linejoin="miter"/>
<polygon points="1106.2,909.9 1112.2,915.9 1106.2,921.9 1100.2,915.9" fill="#12eef6" stroke="#000" stroke-width="1" stroke-linejoin="miter"/>
<polygon points="1138.5,932.4 1144.5,938.4 1138.5,944.4 1132.5,938.4" fill="#12eef6" stroke="#000" stroke-width="1" stroke-linejoin="miter"/>
<polygon points="1141.7,933.6 1147.7,939.6 1141.7,945.6 1135.7,939.6" fill="#12eef6" stroke="#000" stroke-width="1" stroke-linejoin="miter"/>
<polygon points="1225.5,981.2 1231.5,987.2 1225.5,993.2 1219.5,987.2" fill="#12eef6" stroke="#000" stroke-width="1" stroke-linejoin="miter"/>
<polygon points="1088.9,901.7 1097.9,901.7 1097.9,910.7 1088.9,910.7" fill="#00ee1a" stroke="#000" stroke-width="1" stroke-linejoin="miter"/>
<polygon points="1148.9,939.9 1157.9,939.9 1157.9,948.9 1148.9,948.9" fill="#00ee1a" stroke="#000" stroke-width="1" stroke-linejoin="miter"/>
<polygon points="1097.2,953.1 1106.2,953.1 1106.2,962.1 1097.2,962.1" fill="#00ee1a" stroke="#000" stroke-width="1" stroke-linejoin="miter"/>
<polygon points="1047.2,992.1 1049.32,997.78 1055.38,998.04 1050.64,1001.82 1052.25,1007.66 1047.2,1004.31 1042.15,1007.66 1043.76,1001.82 1039.02,998.04 1045.08,997.78" fill="#ff9000" stroke="#000" stroke-width="1" stroke-linejoin="miter"/>
<polygon points="1359.2,997.8 1361.32,1003.48 1367.38,1003.74 1362.64,1007.52 1364.25,1013.36 1359.2,1010.01 1354.15,1013.36 1355.76,1007.52 1351.02,1003.74 1357.08,1003.48" fill="#ff9000" stroke="#000" stroke-width="1" stroke-linejoin="miter"/>
<polygon points="1354.3,1019.6 1356.42,1025.28 1362.48,1025.54 1357.74,1029.32 1359.35,1035.16 1354.3,1031.81 1349.25,1035.16 1350.86,1029.32 1346.12,1025.54 1352.18,1025.28" fill="#ff9000" stroke="#000" stroke-width="1" stroke-linejoin="miter"/>
<line x1="933.5" y1="793.5" x2="912.1" y2="800.8" stroke="#ff33ff" stroke-width="1.6"/>
<line x1="1045.6" y1="862" x2="1045.6" y2="846.2" stroke="#ff33ff" stroke-width="1.6"/>
<line x1="1048.5" y1="883.3" x2="1032.3" y2="893.5" stroke="#ff33ff" stroke-width="1.6"/>
<line x1="1069.4" y1="902.1" x2="1049.7" y2="909.2" stroke="#ff33ff" stroke-width="1.6"/>
<line x1="1007.4" y1="823.5" x2="1019.5" y2="817.9" stroke="#1a2dff" stroke-width="1.6"/>
<line x1="1007.5" y1="836" x2="1016.6" y2="842.4" stroke="#1a2dff" stroke-width="1.6"/>
<line x1="1012.3" y1="857.6" x2="1029" y2="857.6" stroke="#1a2dff" stroke-width="1.6"/>
<line x1="1052.6" y1="871.7" x2="1052.6" y2="860.2" stroke="#1a2dff" stroke-width="1.6"/>
<line x1="1072.7" y1="881.8" x2="1085.9" y2="868.7" stroke="#1a2dff" stroke-width="1.6"/>
<line x1="1076.6" y1="909.2" x2="1058.2" y2="922.7" stroke="#1a2dff" stroke-width="1.6"/>
<line x1="1083.2" y1="918.9" x2="1083.2" y2="939.2" stroke="#1a2dff" stroke-width="1.6"/>
<line x1="1119.2" y1="932.7" x2="1122.7" y2="925.7" stroke="#1a2dff" stroke-width="1.6"/>
<line x1="1145.3" y1="967" x2="1145.3" y2="975.8" stroke="#1a2dff" stroke-width="1.6"/>
<line x1="1068.5" y1="877.7" x2="1071" y2="865.7" stroke="#12eeff" stroke-width="1.6"/>
<line x1="1103.6" y1="905.1" x2="1120.4" y2="898.7" stroke="#12eeff" stroke-width="1.6"/>
<line x1="1103.9" y1="919.7" x2="1100.6" y2="924.6" stroke="#12eeff" stroke-width="1.6"/>
<line x1="1145.1" y1="935.4" x2="1154.6" y2="925.2" stroke="#12eeff" stroke-width="1.6"/>
<line x1="1136.2" y1="942.2" x2="1127.2" y2="949.7" stroke="#12eeff" stroke-width="1.6"/>
<line x1="1225.5" y1="993" x2="1225.5" y2="1005.3" stroke="#12eeff" stroke-width="1.6"/>
<line x1="1093.4" y1="901.7" x2="1093.4" y2="893.5" stroke="#14f014" stroke-width="1.6"/>
<line x1="1157.9" y1="944.4" x2="1173.6" y2="944.4" stroke="#14f014" stroke-width="1.6"/>
<line x1="1101.7" y1="962.4" x2="1101.7" y2="972.9" stroke="#14f014" stroke-width="1.6"/>
<line x1="1016.7" y1="874" x2="1032" y2="874" stroke="#ff8c1a" stroke-width="1.6"/>
<line x1="1047.2" y1="993" x2="1047.2" y2="982.4" stroke="#ff8c1a" stroke-width="1.6"/>
<line x1="1359.2" y1="998.7" x2="1359.2" y2="987.2" stroke="#ff8c1a" stroke-width="1.6"/>
<line x1="1304.8" y1="1028.2" x2="1346" y2="1028.2" stroke="#ff8c1a" stroke-width="1.6"/>
<text x="911.87" y="815.8" font-family="Liberation Sans" font-size="17" fill="#ff33ff" text-anchor="middle" letter-spacing="0.5">15</text>
<text x="1046.07" y="841.9" font-family="Liberation Sans" font-size="17" fill="#ff33ff" text-anchor="middle" letter-spacing="0.5">18</text>
<text x="1017.17" y="898.6" font-family="Liberation Sans" font-size="17" fill="#ff33ff" text-anchor="middle" letter-spacing="0.5">16</text>
<text x="1033.76" y="914.1" font-family="Liberation Sans" font-size="17" fill="#ff33ff" text-anchor="middle" letter-spacing="0.5">17</text>
<text x="1029.51" y="823.4" font-family="Liberation Sans" font-size="17" fill="#1a2dff" text-anchor="middle">5</text>
<text x="1027.01" y="847.7" font-family="Liberation Sans" font-size="17" fill="#1a2dff" text-anchor="middle">7</text>
<text x="1001.42" y="862.6" font-family="Liberation Sans" font-size="17" fill="#1a2dff" text-anchor="middle">6</text>
<text x="1052.61" y="856.4" font-family="Liberation Sans" font-size="17" fill="#1a2dff" text-anchor="middle">9</text>
<text x="1101.53" y="873.6" font-family="Liberation Sans" font-size="17" fill="#1a2dff" text-anchor="middle" letter-spacing="0.5">10</text>
<text x="1047.67" y="927.6" font-family="Liberation Sans" font-size="17" fill="#1a2dff" text-anchor="middle">8</text>
<text x="1082.72" y="953.5" font-family="Liberation Sans" font-size="17" fill="#1a2dff" text-anchor="middle" letter-spacing="0.5">11</text>
<text x="1123.77" y="920.5" font-family="Liberation Sans" font-size="17" fill="#1a2dff" text-anchor="middle" letter-spacing="0.5">13</text>
<text x="1145.66" y="991.3" font-family="Liberation Sans" font-size="17" fill="#1a2dff" text-anchor="middle" letter-spacing="0.5">12</text>
<text x="1070.71" y="861.6" font-family="Liberation Sans" font-size="17" fill="#12eeff" text-anchor="middle" letter-spacing="0.5">19</text>
<text x="1135.84" y="904" font-family="Liberation Sans" font-size="17" fill="#12eeff" text-anchor="middle" letter-spacing="0.5">20</text>
<text x="1099.43" y="938.8" font-family="Liberation Sans" font-size="17" fill="#12eeff" text-anchor="middle" letter-spacing="0.5">21</text>
<text x="1154.8" y="921.1" font-family="Liberation Sans" font-size="17" fill="#12eeff" text-anchor="middle" letter-spacing="0.5">24</text>
<text x="1127.67" y="964.6" font-family="Liberation Sans" font-size="17" fill="#12eeff" text-anchor="middle" letter-spacing="0.5">22</text>
<text x="1225.88" y="1019.1" font-family="Liberation Sans" font-size="17" fill="#12eeff" text-anchor="middle" letter-spacing="0.5">23</text>
<text x="1093.68" y="889.7" font-family="Liberation Sans" font-size="17" fill="#14f014" text-anchor="middle" letter-spacing="0.5">25</text>
<text x="1189.68" y="949.5" font-family="Liberation Sans" font-size="17" fill="#14f014" text-anchor="middle" letter-spacing="0.5">26</text>
<text x="1101.87" y="989.1" font-family="Liberation Sans" font-size="17" fill="#14f014" text-anchor="middle" letter-spacing="0.5">27</text>
<text x="1001.03" y="879.6" font-family="Liberation Sans" font-size="17" fill="#ff8c1a" text-anchor="middle" letter-spacing="0.5">29</text>
<text x="1046.98" y="978.2" font-family="Liberation Sans" font-size="17" fill="#ff8c1a" text-anchor="middle" letter-spacing="0.5">30b</text>
<text x="1359.14" y="983.9" font-family="Liberation Sans" font-size="17" fill="#ff8c1a" text-anchor="middle" letter-spacing="0.5">30a</text>
<text x="1303.91" y="1024" font-family="Liberation Sans" font-size="17" fill="#ff8c1a" text-anchor="middle" letter-spacing="0.5">31</text>
<rect x="1076.5" y="645.6" width="163.2" height="113.5" fill="#fff"/>
<line x1="1078.7" y1="759.1" x2="1078.7" y2="766.7" stroke="#000" stroke-width="1.5"/>
<line x1="1078.7" y1="645.6" x2="1078.7" y2="653.2" stroke="#000" stroke-width="1.5"/>
<line x1="1150.7" y1="759.1" x2="1150.7" y2="766.7" stroke="#000" stroke-width="1.5"/>
<line x1="1150.7" y1="645.6" x2="1150.7" y2="653.2" stroke="#000" stroke-width="1.5"/>
<line x1="1222.7" y1="759.1" x2="1222.7" y2="766.7" stroke="#000" stroke-width="1.5"/>
<line x1="1222.7" y1="645.6" x2="1222.7" y2="653.2" stroke="#000" stroke-width="1.5"/>
<line x1="1114.7" y1="759.1" x2="1114.7" y2="762.9" stroke="#000" stroke-width="1.5"/>
<line x1="1114.7" y1="645.6" x2="1114.7" y2="649.4" stroke="#000" stroke-width="1.5"/>
<line x1="1186.7" y1="759.1" x2="1186.7" y2="762.9" stroke="#000" stroke-width="1.5"/>
<line x1="1186.7" y1="645.6" x2="1186.7" y2="649.4" stroke="#000" stroke-width="1.5"/>
<line x1="1068.9" y1="737.8" x2="1076.5" y2="737.8" stroke="#000" stroke-width="1.5"/>
<line x1="1232.1" y1="737.8" x2="1239.7" y2="737.8" stroke="#000" stroke-width="1.5"/>
<line x1="1068.9" y1="711.8" x2="1076.5" y2="711.8" stroke="#000" stroke-width="1.5"/>
<line x1="1232.1" y1="711.8" x2="1239.7" y2="711.8" stroke="#000" stroke-width="1.5"/>
<line x1="1068.9" y1="685.8" x2="1076.5" y2="685.8" stroke="#000" stroke-width="1.5"/>
<line x1="1232.1" y1="685.8" x2="1239.7" y2="685.8" stroke="#000" stroke-width="1.5"/>
<line x1="1068.9" y1="659.8" x2="1076.5" y2="659.8" stroke="#000" stroke-width="1.5"/>
<line x1="1232.1" y1="659.8" x2="1239.7" y2="659.8" stroke="#000" stroke-width="1.5"/>
<rect x="1076.5" y="645.6" width="163.2" height="113.5" fill="none" stroke="#a8a8a8" stroke-width="1"/>
<text x="1066.4" y="742" font-family="Liberation Sans" font-size="11.7" fill="#000" text-anchor="end">1.15</text>
<text x="1066.4" y="716" font-family="Liberation Sans" font-size="11.7" fill="#000" text-anchor="end">1.20</text>
<text x="1066.4" y="690" font-family="Liberation Sans" font-size="11.7" fill="#000" text-anchor="end">1.25</text>
<text x="1066.4" y="664" font-family="Liberation Sans" font-size="11.7" fill="#000" text-anchor="end">1.30</text>
<text x="1076.32" y="777.6" font-family="Liberation Sans" font-size="11.7" fill="#000" text-anchor="start">1.42</text>
<text x="1150.44" y="777.6" font-family="Liberation Sans" font-size="11.7" fill="#000" text-anchor="middle">1.44</text>
<text x="1222.5" y="777.6" font-family="Liberation Sans" font-size="11.7" fill="#000" text-anchor="middle">1.46</text>
<clipPath id="cci1"><rect x="1076.5" y="645.6" width="163.2" height="113.5"/></clipPath>
<path d="M1078.7,621.48 L1081.7,623.88 L1084.7,626.26 L1087.7,628.64 L1090.7,631 L1093.7,633.36 L1096.7,635.71 L1099.7,638.05 L1102.7,640.38 L1105.7,642.7 L1108.7,645.01 L1111.7,647.31 L1114.7,649.61 L1117.7,651.89 L1120.7,654.17 L1123.7,656.43 L1126.7,658.69 L1129.7,660.94 L1132.7,663.18 L1135.7,665.41 L1138.7,667.63 L1141.7,669.85 L1144.7,672.05 L1147.7,674.25 L1150.7,676.44 L1153.7,678.62 L1156.7,680.79 L1159.7,682.95 L1162.7,685.11 L1165.7,687.25 L1168.7,689.39 L1171.7,691.52 L1174.7,693.64 L1177.7,695.76 L1180.7,697.86 L1183.7,699.96 L1186.7,702.05 L1189.7,704.13 L1192.7,706.2 L1195.7,708.27 L1198.7,710.32 L1201.7,712.37 L1204.7,714.41 L1207.7,716.45 L1210.7,718.47 L1213.7,720.49 L1216.7,722.5 L1219.7,724.5 L1222.7,726.5 L1225.7,728.48 L1228.7,730.46 L1231.7,732.43 L1234.7,734.4 L1237.7,736.36 L1240.7,738.3 L1243.7,740.25 L1246.7,742.18 L1249.7,744.11 L1252.7,746.03 L1255.7,747.94 L1258.7,749.84" fill="none" stroke="#000" stroke-width="1.6" clip-path="url(#cci1)"/>
<polygon points="1090.55,662.8 1103.25,662.8 1096.9,672.6" fill="#ff0a14" stroke="#000" stroke-width="1" stroke-linejoin="miter"/>
<polygon points="1108.55,665.1 1121.25,665.1 1114.9,674.9" fill="#ff0a14" stroke="#000" stroke-width="1" stroke-linejoin="miter"/>
<polygon points="1108.55,680.8 1121.25,680.8 1114.9,690.6" fill="#ff0a14" stroke="#000" stroke-width="1" stroke-linejoin="miter"/>
<polygon points="1119.45,681.8 1132.15,681.8 1125.8,691.6" fill="#ff0a14" stroke="#000" stroke-width="1" stroke-linejoin="miter"/>
<polygon points="1198.45,712.3 1211.15,712.3 1204.8,722.1" fill="#ff0a14" stroke="#000" stroke-width="1" stroke-linejoin="miter"/>
<polygon points="1198.45,723.1 1211.15,723.1 1204.8,732.9" fill="#ff0a14" stroke="#000" stroke-width="1" stroke-linejoin="miter"/>
<polygon points="1205.55,724.8 1218.25,724.8 1211.9,734.6" fill="#ff0a14" stroke="#000" stroke-width="1" stroke-linejoin="miter"/>
<line x1="1096.9" y1="672" x2="1096.9" y2="681.8" stroke="#ff1a1a" stroke-width="1.6"/>
<line x1="1118" y1="667.8" x2="1144.4" y2="667.8" stroke="#ff1a1a" stroke-width="1.6"/>
<line x1="1114.9" y1="689" x2="1114.9" y2="698.7" stroke="#ff1a1a" stroke-width="1.6"/>
<line x1="1128.5" y1="685.9" x2="1141.4" y2="692.6" stroke="#ff1a1a" stroke-width="1.6"/>
<line x1="1204.8" y1="700.8" x2="1204.8" y2="712.4" stroke="#ff1a1a" stroke-width="1.6"/>
<line x1="1182.7" y1="725.9" x2="1200" y2="725.9" stroke="#ff1a1a" stroke-width="1.6"/>
<line x1="1211.9" y1="733" x2="1211.9" y2="741.5" stroke="#ff1a1a" stroke-width="1.6"/>
<text x="1096.48" y="696.4" font-family="Liberation Sans" font-size="17" fill="#ff1a1a" text-anchor="middle" letter-spacing="0.5">41</text>
<text x="1143.91" y="664.1" font-family="Liberation Sans" font-size="17" fill="#ff1a1a" text-anchor="middle" letter-spacing="0.5">51</text>
<text x="1115.52" y="713.8" font-family="Liberation Sans" font-size="17" fill="#ff1a1a" text-anchor="middle" letter-spacing="0.5">42</text>
<text x="1141.95" y="706.6" font-family="Liberation Sans" font-size="17" fill="#ff1a1a" text-anchor="middle" letter-spacing="0.5">52</text>
<text x="1205.11" y="696.4" font-family="Liberation Sans" font-size="17" fill="#ff1a1a" text-anchor="middle" letter-spacing="0.5">39</text>
<text x="1182.4" y="722.2" font-family="Liberation Sans" font-size="17" fill="#ff1a1a" text-anchor="middle" letter-spacing="0.5">40</text>
<text x="1212.08" y="755.4" font-family="Liberation Sans" font-size="17" fill="#ff1a1a" text-anchor="middle" letter-spacing="0.5">34</text>
<line x1="1076.5" y1="694" x2="942.45" y2="731.23" stroke="#000" stroke-width="1.5"/>
<polygon points="938.6,732.3 946.37,734.5 943.42,730.96 944.12,726.41" fill="#000" stroke="#000" stroke-width="0.3"/>
<rect x="1217.5" y="788.5" width="145.1" height="146.4" fill="#fff"/>
<line x1="1228.25" y1="934.9" x2="1228.25" y2="942.5" stroke="#000" stroke-width="1.5"/>
<line x1="1228.25" y1="788.5" x2="1228.25" y2="796.1" stroke="#000" stroke-width="1.5"/>
<line x1="1289.5" y1="934.9" x2="1289.5" y2="942.5" stroke="#000" stroke-width="1.5"/>
<line x1="1289.5" y1="788.5" x2="1289.5" y2="796.1" stroke="#000" stroke-width="1.5"/>
<line x1="1350.75" y1="934.9" x2="1350.75" y2="942.5" stroke="#000" stroke-width="1.5"/>
<line x1="1350.75" y1="788.5" x2="1350.75" y2="796.1" stroke="#000" stroke-width="1.5"/>
<line x1="1258.87" y1="934.9" x2="1258.87" y2="938.7" stroke="#000" stroke-width="1.5"/>
<line x1="1258.87" y1="788.5" x2="1258.87" y2="792.3" stroke="#000" stroke-width="1.5"/>
<line x1="1320.12" y1="934.9" x2="1320.12" y2="938.7" stroke="#000" stroke-width="1.5"/>
<line x1="1320.12" y1="788.5" x2="1320.12" y2="792.3" stroke="#000" stroke-width="1.5"/>
<line x1="1209.9" y1="907.1" x2="1217.5" y2="907.1" stroke="#000" stroke-width="1.5"/>
<line x1="1355" y1="907.1" x2="1362.6" y2="907.1" stroke="#000" stroke-width="1.5"/>
<line x1="1209.9" y1="870.3" x2="1217.5" y2="870.3" stroke="#000" stroke-width="1.5"/>
<line x1="1355" y1="870.3" x2="1362.6" y2="870.3" stroke="#000" stroke-width="1.5"/>
<line x1="1209.9" y1="833.5" x2="1217.5" y2="833.5" stroke="#000" stroke-width="1.5"/>
<line x1="1355" y1="833.5" x2="1362.6" y2="833.5" stroke="#000" stroke-width="1.5"/>
<line x1="1209.9" y1="796.7" x2="1217.5" y2="796.7" stroke="#000" stroke-width="1.5"/>
<line x1="1355" y1="796.7" x2="1362.6" y2="796.7" stroke="#000" stroke-width="1.5"/>
<line x1="1213.7" y1="925.5" x2="1217.5" y2="925.5" stroke="#000" stroke-width="1.5"/>
<line x1="1358.8" y1="925.5" x2="1362.6" y2="925.5" stroke="#000" stroke-width="1.5"/>
<line x1="1213.7" y1="888.7" x2="1217.5" y2="888.7" stroke="#000" stroke-width="1.5"/>
<line x1="1358.8" y1="888.7" x2="1362.6" y2="888.7" stroke="#000" stroke-width="1.5"/>
<line x1="1213.7" y1="851.9" x2="1217.5" y2="851.9" stroke="#000" stroke-width="1.5"/>
<line x1="1358.8" y1="851.9" x2="1362.6" y2="851.9" stroke="#000" stroke-width="1.5"/>
<line x1="1213.7" y1="815.1" x2="1217.5" y2="815.1" stroke="#000" stroke-width="1.5"/>
<line x1="1358.8" y1="815.1" x2="1362.6" y2="815.1" stroke="#000" stroke-width="1.5"/>
<rect x="1217.5" y="788.5" width="145.1" height="146.4" fill="none" stroke="#a8a8a8" stroke-width="1"/>
<text x="1207" y="911.3" font-family="Liberation Sans" font-size="11.7" fill="#000" text-anchor="end">0.96</text>
<text x="1207" y="874.5" font-family="Liberation Sans" font-size="11.7" fill="#000" text-anchor="end">0.98</text>
<text x="1207" y="837.7" font-family="Liberation Sans" font-size="11.7" fill="#000" text-anchor="end">1.00</text>
<text x="1207" y="800.9" font-family="Liberation Sans" font-size="11.7" fill="#000" text-anchor="end">1.02</text>
<text x="1228.08" y="953.3" font-family="Liberation Sans" font-size="11.7" fill="#000" text-anchor="middle">1.51</text>
<text x="1289.36" y="953.3" font-family="Liberation Sans" font-size="11.7" fill="#000" text-anchor="middle">1.52</text>
<text x="1350.55" y="953.3" font-family="Liberation Sans" font-size="11.7" fill="#000" text-anchor="middle">1.53</text>
<clipPath id="cci2"><rect x="1217.5" y="788.5" width="145.1" height="146.4"/></clipPath>
<path d="M1197.62,861.39 L1199.16,863.11 L1200.69,864.83 L1202.22,866.55 L1203.75,868.27 L1205.28,869.98 L1206.81,871.7 L1208.34,873.41 L1209.87,875.11 L1211.41,876.82 L1212.94,878.53 L1214.47,880.23 L1216,881.93 L1217.53,883.63 L1219.06,885.33 L1220.59,887.02 L1222.12,888.72 L1223.66,890.41 L1225.19,892.1 L1226.72,893.78 L1228.25,895.47 L1229.78,897.15 L1231.31,898.84 L1232.84,900.52 L1234.37,902.2 L1235.91,903.87 L1237.44,905.55 L1238.97,907.22 L1240.5,908.89 L1242.03,910.56 L1243.56,912.23 L1245.09,913.89 L1246.62,915.56 L1248.16,917.22 L1249.69,918.88 L1251.22,920.54 L1252.75,922.19 L1254.28,923.85 L1255.81,925.5 L1257.34,927.15 L1258.87,928.8 L1260.41,930.45 L1261.94,932.09 L1263.47,933.73 L1265,935.38 L1266.53,937.02 L1268.06,938.65 L1269.59,940.29 L1271.12,941.92 L1272.66,943.56 L1274.19,945.19 L1275.72,946.82 L1277.25,948.44 L1278.78,950.07 L1280.31,951.69 L1281.84,953.31 L1283.37,954.93 L1284.91,956.55 L1286.44,958.17 L1287.97,959.78 L1289.5,961.4" fill="none" stroke="#000" stroke-width="1.6" clip-path="url(#cci2)"/>
<polygon points="1246.05,810.4 1258.75,810.4 1252.4,820" fill="#ff0a14" stroke="#000" stroke-width="1" stroke-linejoin="miter"/>
<polygon points="1282.65,843.4 1295.35,843.4 1289,853.2" fill="#ff0a14" stroke="#000" stroke-width="1" stroke-linejoin="miter"/>
<polygon points="1344.15,918.7 1356.85,918.7 1350.5,927.9" fill="#ff0a14" stroke="#000" stroke-width="1" stroke-linejoin="miter"/>
<circle cx="1307.7" cy="833.5" r="5.2" fill="#1530ff" stroke="#000" stroke-width="1.6"/>
<circle cx="1314.3" cy="854.1" r="5.2" fill="#1530ff" stroke="#000" stroke-width="1.6"/>
<circle cx="1326.3" cy="878" r="5.2" fill="#1530ff" stroke="#000" stroke-width="1.6"/>
<circle cx="1350.5" cy="910.5" r="5.2" fill="#1530ff" stroke="#000" stroke-width="1.6"/>
<polygon points="1307.7,841.2 1313.3,849.8 1302.1,849.8" fill="#ff3cff" stroke="#000" stroke-width="1" stroke-linejoin="miter"/>
<polygon points="1240.1,846.8 1242.22,852.48 1248.28,852.74 1243.54,856.52 1245.15,862.36 1240.1,859.01 1235.05,862.36 1236.66,856.52 1231.92,852.74 1237.98,852.48" fill="#ff9000" stroke="#000" stroke-width="1" stroke-linejoin="miter"/>
<line x1="1232.3" y1="813.2" x2="1247" y2="813.2" stroke="#ff1a1a" stroke-width="1.6"/>
<line x1="1289" y1="832.3" x2="1289" y2="843.5" stroke="#ff1a1a" stroke-width="1.6"/>
<line x1="1330.3" y1="921.7" x2="1345" y2="921.7" stroke="#ff1a1a" stroke-width="1.6"/>
<line x1="1307.7" y1="827.7" x2="1307.7" y2="817.8" stroke="#1a2dff" stroke-width="1.6"/>
<line x1="1317.6" y1="850" x2="1327.5" y2="837.3" stroke="#1a2dff" stroke-width="1.6"/>
<line x1="1330.3" y1="873.5" x2="1340.7" y2="863.7" stroke="#1a2dff" stroke-width="1.6"/>
<line x1="1350.5" y1="905.2" x2="1350.5" y2="889" stroke="#1a2dff" stroke-width="1.6"/>
<line x1="1307.7" y1="849.5" x2="1307.7" y2="865.3" stroke="#ff33ff" stroke-width="1.6"/>
<line x1="1245" y1="860.4" x2="1256.6" y2="871.9" stroke="#ff8c1a" stroke-width="1.6"/>
<text x="1232.32" y="809.6" font-family="Liberation Sans" font-size="17" fill="#ff1a1a" text-anchor="middle" letter-spacing="0.5">47</text>
<text x="1289.35" y="827.3" font-family="Liberation Sans" font-size="17" fill="#ff1a1a" text-anchor="middle" letter-spacing="0.5">37</text>
<text x="1315.14" y="926.2" font-family="Liberation Sans" font-size="17" fill="#ff1a1a" text-anchor="middle" letter-spacing="0.5">48</text>
<text x="1307.45" y="816.2" font-family="Liberation Sans" font-size="17" fill="#1a2dff" text-anchor="middle">1</text>
<text x="1328.01" y="833.4" font-family="Liberation Sans" font-size="17" fill="#1a2dff" text-anchor="middle">2</text>
<text x="1341.21" y="859.4" font-family="Liberation Sans" font-size="17" fill="#1a2dff" text-anchor="middle">3</text>
<text x="1350.59" y="885" font-family="Liberation Sans" font-size="17" fill="#1a2dff" text-anchor="middle">4</text>
<text x="1307.89" y="880" font-family="Liberation Sans" font-size="17" fill="#ff33ff" text-anchor="middle" letter-spacing="0.5">14</text>
<text x="1257.28" y="886.6" font-family="Liberation Sans" font-size="17" fill="#ff8c1a" text-anchor="middle" letter-spacing="0.5">28</text>
<line x1="1217.5" y1="805.5" x2="1007.5" y2="805.6" stroke="#000" stroke-width="1.5"/>
<polygon points="1003.5,805.6 1010.4,809.8 1008.5,805.6 1010.4,801.4" fill="#000" stroke="#000" stroke-width="0.3"/>
</svg></body></html>
